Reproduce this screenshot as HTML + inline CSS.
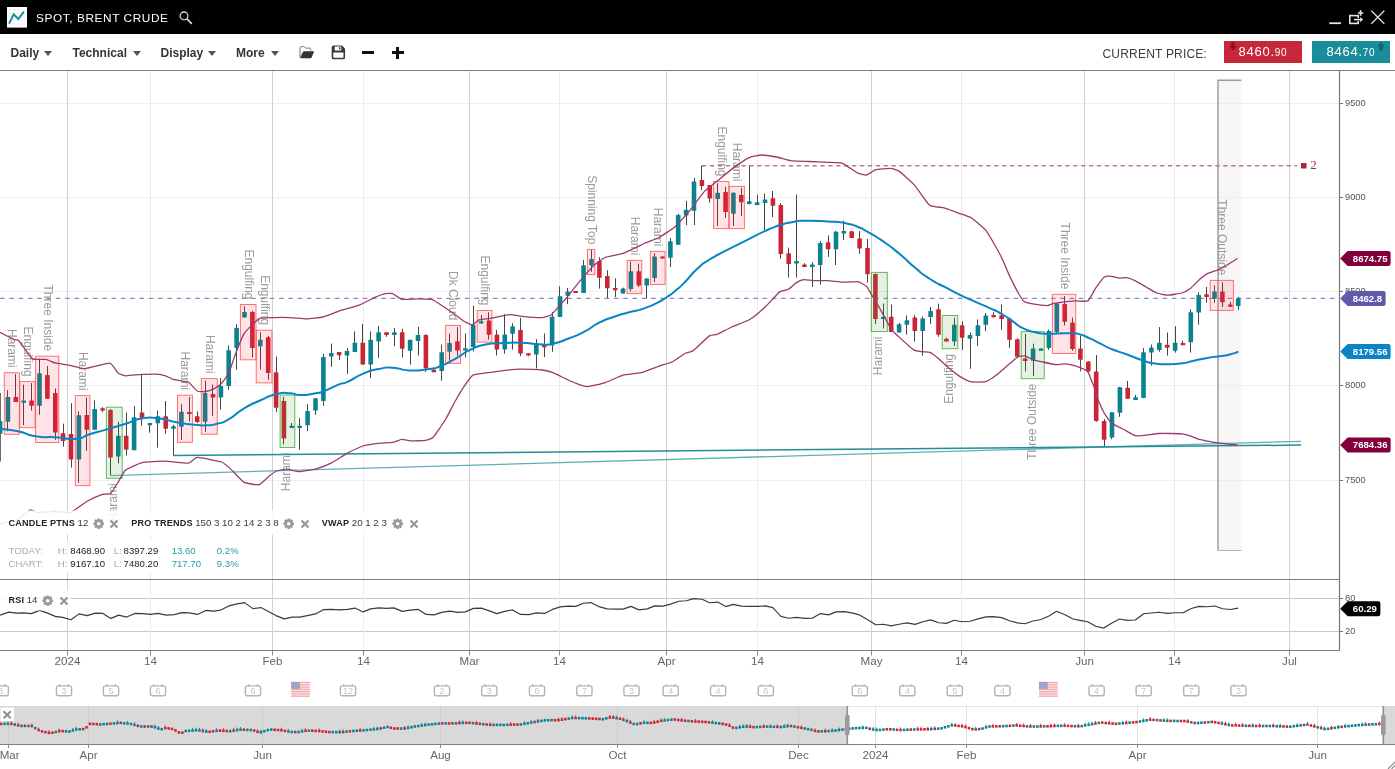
<!DOCTYPE html>
<html lang="en"><head><meta charset="utf-8"><title>SPOT, BRENT CRUDE</title>
<style>
html,body{margin:0;padding:0;background:#fff}
body{width:1395px;height:769px;position:relative;overflow:hidden;font-family:"Liberation Sans",sans-serif}
.abs{position:absolute;white-space:nowrap;line-height:1}
.ic{position:absolute}
#hdr{position:absolute;left:0;top:0;width:1395px;height:34px;background:#000}
#tb{position:absolute;left:0;top:34px;width:1395px;height:36px;background:#fff;border-bottom:1.5px solid #7d7d7d;box-sizing:content-box}
.title{left:36px;top:12.7px;color:#fff;font-size:11.8px;letter-spacing:0.6px}
.mi{top:46.7px;font-size:12px;font-weight:bold;color:#353535}
.tri{position:absolute;width:0;height:0;border-left:4.9px solid transparent;border-right:4.9px solid transparent;border-top:5.6px solid #555;top:50.6px}
.cp{left:1102.5px;top:47.6px;font-size:12px;letter-spacing:0.2px;color:#3c3c3c}
.pb{position:absolute;top:41px;height:22px;width:78px;color:#fff}
.pb span{position:absolute;white-space:nowrap;line-height:1}
.lg{font-size:9.05px;color:#222}
.lg b{letter-spacing:0.2px}
.lgv{font-size:9.7px;color:#3a3a3a}
.st{font-size:9.6px}
</style></head><body>
<svg width="1395" height="769" viewBox="0 0 1395 769" style="position:absolute;left:0;top:0" font-family="'Liberation Sans', sans-serif">
<rect x="0" y="70" width="1395" height="699" fill="#fff"/>
<rect x="1218" y="80" width="23.5" height="471" fill="#f6f6f6"/>
<line x1="0" x2="1339" y1="103.5" y2="103.5" stroke="#eeeeee" stroke-width="1"/>
<line x1="0" x2="1339" y1="197.5" y2="197.5" stroke="#eeeeee" stroke-width="1"/>
<line x1="0" x2="1339" y1="291.5" y2="291.5" stroke="#eeeeee" stroke-width="1"/>
<line x1="0" x2="1339" y1="385.5" y2="385.5" stroke="#eeeeee" stroke-width="1"/>
<line x1="0" x2="1339" y1="480.5" y2="480.5" stroke="#eeeeee" stroke-width="1"/>
<line x1="0" x2="1339" y1="598.5" y2="598.5" stroke="#c9c9c9" stroke-width="1"/>
<line x1="0" x2="1339" y1="631.5" y2="631.5" stroke="#c9c9c9" stroke-width="1"/>
<line x1="67.5" x2="67.5" y1="71" y2="651" stroke="#d3d3d3" stroke-width="1"/>
<line x1="150.5" x2="150.5" y1="71" y2="651" stroke="#ebebeb" stroke-width="1"/>
<line x1="272.5" x2="272.5" y1="71" y2="651" stroke="#d3d3d3" stroke-width="1"/>
<line x1="363.5" x2="363.5" y1="71" y2="651" stroke="#ebebeb" stroke-width="1"/>
<line x1="469.5" x2="469.5" y1="71" y2="651" stroke="#d3d3d3" stroke-width="1"/>
<line x1="559.5" x2="559.5" y1="71" y2="651" stroke="#ebebeb" stroke-width="1"/>
<line x1="666.5" x2="666.5" y1="71" y2="651" stroke="#d3d3d3" stroke-width="1"/>
<line x1="757.5" x2="757.5" y1="71" y2="651" stroke="#ebebeb" stroke-width="1"/>
<line x1="871.5" x2="871.5" y1="71" y2="651" stroke="#d3d3d3" stroke-width="1"/>
<line x1="961.5" x2="961.5" y1="71" y2="651" stroke="#ebebeb" stroke-width="1"/>
<line x1="1084.5" x2="1084.5" y1="71" y2="651" stroke="#d3d3d3" stroke-width="1"/>
<line x1="1174.5" x2="1174.5" y1="71" y2="651" stroke="#ebebeb" stroke-width="1"/>
<line x1="1289.5" x2="1289.5" y1="71" y2="651" stroke="#d3d3d3" stroke-width="1"/>
<path d="M1218 551 V80.2 H1241.5" fill="none" stroke="#9a9a9a" stroke-width="1.4"/>
<line x1="1218" x2="1241.5" y1="550.5" y2="550.5" stroke="#b5b5b5" stroke-width="1"/>
<line x1="0" x2="1339" y1="298.4" y2="298.4" stroke="#8d86cb" stroke-width="1.1" stroke-dasharray="4.6 4.7"/>
<g id="candles">
<line x1="0.3" x2="0.3" y1="393" y2="461.6" stroke="#464646" stroke-width="1"/>
<rect x="-2.2" y="421.1" width="4.6" height="12.6" rx="0.5" fill="#0a8290"/>
<line x1="7.5" x2="7.5" y1="390.2" y2="431.3" stroke="#464646" stroke-width="1"/>
<rect x="5.6" y="396.9" width="4.6" height="24.8" rx="0.5" fill="#0a8290"/>
<line x1="15.5" x2="15.5" y1="374.1" y2="401.9" stroke="#464646" stroke-width="1"/>
<rect x="13.5" y="396.9" width="4.6" height="5" rx="0.5" fill="#cb2535"/>
<line x1="23.5" x2="23.5" y1="384.7" y2="425.3" stroke="#464646" stroke-width="1"/>
<rect x="21.4" y="400.5" width="4.6" height="2.3" rx="0.5" fill="#0a8290"/>
<line x1="31.5" x2="31.5" y1="383" y2="410.5" stroke="#464646" stroke-width="1"/>
<rect x="29.3" y="400.5" width="4.6" height="5.2" rx="0.5" fill="#cb2535"/>
<line x1="39.5" x2="39.5" y1="358.6" y2="414.8" stroke="#464646" stroke-width="1"/>
<rect x="37.2" y="373.3" width="4.6" height="32.4" rx="0.5" fill="#0a8290"/>
<line x1="47.5" x2="47.5" y1="366.1" y2="398.8" stroke="#464646" stroke-width="1"/>
<rect x="45.1" y="375.1" width="4.6" height="23.7" rx="0.5" fill="#cb2535"/>
<line x1="55.5" x2="55.5" y1="388.5" y2="439.9" stroke="#464646" stroke-width="1"/>
<rect x="53" y="393" width="4.6" height="39.5" rx="0.5" fill="#cb2535"/>
<line x1="63.5" x2="63.5" y1="423.7" y2="446.6" stroke="#464646" stroke-width="1"/>
<rect x="60.8" y="433.3" width="4.6" height="7.6" rx="0.5" fill="#cb2535"/>
<line x1="71.5" x2="71.5" y1="403.2" y2="467.7" stroke="#464646" stroke-width="1"/>
<rect x="68.7" y="434.1" width="4.6" height="25.4" rx="0.5" fill="#cb2535"/>
<line x1="78.5" x2="78.5" y1="411.5" y2="482.7" stroke="#464646" stroke-width="1"/>
<rect x="76.6" y="415.3" width="4.6" height="44.2" rx="0.5" fill="#0a8290"/>
<line x1="86.5" x2="86.5" y1="397.6" y2="450.9" stroke="#464646" stroke-width="1"/>
<rect x="84.5" y="415" width="4.6" height="14.8" rx="0.5" fill="#cb2535"/>
<line x1="94.5" x2="94.5" y1="400.4" y2="429.7" stroke="#464646" stroke-width="1"/>
<rect x="92.4" y="408.9" width="4.6" height="20.8" rx="0.5" fill="#0a8290"/>
<line x1="102.5" x2="102.5" y1="407.2" y2="412.2" stroke="#464646" stroke-width="1"/>
<rect x="100.3" y="408.2" width="4.6" height="2.3" rx="0.5" fill="#cb2535"/>
<line x1="110.5" x2="110.5" y1="408.9" y2="475.6" stroke="#464646" stroke-width="1"/>
<rect x="108.2" y="410" width="4.6" height="47.6" rx="0.5" fill="#cb2535"/>
<line x1="118.5" x2="118.5" y1="421.8" y2="463.4" stroke="#464646" stroke-width="1"/>
<rect x="116" y="435.8" width="4.6" height="20.8" rx="0.5" fill="#0a8290"/>
<line x1="126.5" x2="126.5" y1="412.5" y2="455.6" stroke="#464646" stroke-width="1"/>
<rect x="123.9" y="435.8" width="4.6" height="13.7" rx="0.5" fill="#cb2535"/>
<line x1="134.5" x2="134.5" y1="406" y2="450.2" stroke="#464646" stroke-width="1"/>
<rect x="131.8" y="417.2" width="4.6" height="33" rx="0.5" fill="#0a8290"/>
<line x1="141.5" x2="141.5" y1="374.8" y2="425.8" stroke="#464646" stroke-width="1"/>
<rect x="139.7" y="412.6" width="4.6" height="5.6" rx="0.5" fill="#cb2535"/>
<line x1="149.5" x2="149.5" y1="423" y2="432.7" stroke="#464646" stroke-width="1"/>
<rect x="147.6" y="423" width="4.6" height="2.2" rx="0.5" fill="#0a8290"/>
<line x1="157.5" x2="157.5" y1="410.8" y2="447.6" stroke="#464646" stroke-width="1"/>
<rect x="155.5" y="416.2" width="4.6" height="7" rx="0.5" fill="#0a8290"/>
<line x1="165.5" x2="165.5" y1="401.1" y2="433.7" stroke="#464646" stroke-width="1"/>
<rect x="163.4" y="416.2" width="4.6" height="12.5" rx="0.5" fill="#cb2535"/>
<line x1="173.5" x2="173.5" y1="424.7" y2="455.6" stroke="#464646" stroke-width="1"/>
<rect x="171.2" y="426.2" width="4.6" height="2.5" rx="0.5" fill="#0a8290"/>
<line x1="181.5" x2="181.5" y1="404.3" y2="439.9" stroke="#464646" stroke-width="1"/>
<rect x="179.1" y="411.8" width="4.6" height="15" rx="0.5" fill="#0a8290"/>
<line x1="189.5" x2="189.5" y1="396.9" y2="421.5" stroke="#464646" stroke-width="1"/>
<rect x="187" y="411.9" width="4.6" height="2.2" rx="0.5" fill="#cb2535"/>
<line x1="197.5" x2="197.5" y1="411.3" y2="423" stroke="#464646" stroke-width="1"/>
<rect x="194.9" y="416.3" width="4.6" height="5.7" rx="0.5" fill="#cb2535"/>
<line x1="205.5" x2="205.5" y1="380.8" y2="431.9" stroke="#464646" stroke-width="1"/>
<rect x="202.8" y="393" width="4.6" height="28.7" rx="0.5" fill="#0a8290"/>
<line x1="212.5" x2="212.5" y1="384.4" y2="415.8" stroke="#464646" stroke-width="1"/>
<rect x="210.7" y="393.9" width="4.6" height="3.6" rx="0.5" fill="#cb2535"/>
<line x1="220.5" x2="220.5" y1="378.1" y2="409.5" stroke="#464646" stroke-width="1"/>
<rect x="218.6" y="386.1" width="4.6" height="11.4" rx="0.5" fill="#0a8290"/>
<line x1="228.5" x2="228.5" y1="345.4" y2="389.7" stroke="#464646" stroke-width="1"/>
<rect x="226.4" y="350.3" width="4.6" height="35.8" rx="0.5" fill="#0a8290"/>
<line x1="236.5" x2="236.5" y1="324.2" y2="369.6" stroke="#464646" stroke-width="1"/>
<rect x="234.3" y="327.8" width="4.6" height="20.3" rx="0.5" fill="#0a8290"/>
<line x1="244.5" x2="244.5" y1="306.3" y2="317.4" stroke="#464646" stroke-width="1"/>
<rect x="242.2" y="312" width="4.6" height="5.4" rx="0.5" fill="#0a8290"/>
<line x1="252.5" x2="252.5" y1="310.8" y2="357.4" stroke="#464646" stroke-width="1"/>
<rect x="250.1" y="312" width="4.6" height="36.1" rx="0.5" fill="#cb2535"/>
<line x1="260.5" x2="260.5" y1="332.3" y2="369.6" stroke="#464646" stroke-width="1"/>
<rect x="258" y="339.8" width="4.6" height="6.5" rx="0.5" fill="#0a8290"/>
<line x1="268.5" x2="268.5" y1="335.9" y2="379.9" stroke="#464646" stroke-width="1"/>
<rect x="265.9" y="337.2" width="4.6" height="35.8" rx="0.5" fill="#cb2535"/>
<line x1="276.5" x2="276.5" y1="356.5" y2="412.2" stroke="#464646" stroke-width="1"/>
<rect x="273.8" y="372.3" width="4.6" height="35.4" rx="0.5" fill="#cb2535"/>
<line x1="283.5" x2="283.5" y1="396.9" y2="444.5" stroke="#464646" stroke-width="1"/>
<rect x="281.6" y="401.1" width="4.6" height="37.4" rx="0.5" fill="#cb2535"/>
<line x1="291.5" x2="291.5" y1="423" y2="428" stroke="#464646" stroke-width="1"/>
<rect x="289.5" y="425.7" width="4.6" height="2.3" rx="0.5" fill="#0a8290"/>
<line x1="299.5" x2="299.5" y1="418.2" y2="449.6" stroke="#464646" stroke-width="1"/>
<rect x="297.4" y="425.7" width="4.6" height="2.3" rx="0.5" fill="#0a8290"/>
<line x1="307.5" x2="307.5" y1="404.1" y2="431" stroke="#464646" stroke-width="1"/>
<rect x="305.3" y="410.9" width="4.6" height="14.4" rx="0.5" fill="#0a8290"/>
<line x1="315.5" x2="315.5" y1="397.8" y2="414.9" stroke="#464646" stroke-width="1"/>
<rect x="313.2" y="398.3" width="4.6" height="12.1" rx="0.5" fill="#0a8290"/>
<line x1="323.5" x2="323.5" y1="353.8" y2="405.9" stroke="#464646" stroke-width="1"/>
<rect x="321.1" y="356.9" width="4.6" height="44.1" rx="0.5" fill="#0a8290"/>
<line x1="331.5" x2="331.5" y1="343.6" y2="366.8" stroke="#464646" stroke-width="1"/>
<rect x="329" y="352.9" width="4.6" height="3.6" rx="0.5" fill="#0a8290"/>
<line x1="339.5" x2="339.5" y1="352" y2="360.1" stroke="#464646" stroke-width="1"/>
<rect x="336.8" y="352" width="4.6" height="3.3" rx="0.5" fill="#cb2535"/>
<line x1="347.5" x2="347.5" y1="348.1" y2="373.9" stroke="#464646" stroke-width="1"/>
<rect x="344.7" y="351.1" width="4.6" height="4.5" rx="0.5" fill="#0a8290"/>
<line x1="354.5" x2="354.5" y1="331.4" y2="352" stroke="#464646" stroke-width="1"/>
<rect x="352.6" y="342.7" width="4.6" height="9.3" rx="0.5" fill="#0a8290"/>
<line x1="362.5" x2="362.5" y1="323.9" y2="364.6" stroke="#464646" stroke-width="1"/>
<rect x="360.5" y="342.7" width="4.6" height="21.9" rx="0.5" fill="#cb2535"/>
<line x1="370.5" x2="370.5" y1="331.4" y2="378.1" stroke="#464646" stroke-width="1"/>
<rect x="368.4" y="339.8" width="4.6" height="24.8" rx="0.5" fill="#0a8290"/>
<line x1="378.5" x2="378.5" y1="326" y2="357.8" stroke="#464646" stroke-width="1"/>
<rect x="376.3" y="332.3" width="4.6" height="9.3" rx="0.5" fill="#0a8290"/>
<line x1="386.5" x2="386.5" y1="332.3" y2="336.8" stroke="#464646" stroke-width="1"/>
<rect x="384.2" y="332.3" width="4.6" height="2.7" rx="0.5" fill="#cb2535"/>
<line x1="394.5" x2="394.5" y1="327.8" y2="346.3" stroke="#464646" stroke-width="1"/>
<rect x="392.1" y="332.3" width="4.6" height="2.7" rx="0.5" fill="#0a8290"/>
<line x1="402.5" x2="402.5" y1="328.7" y2="357.4" stroke="#464646" stroke-width="1"/>
<rect x="399.9" y="332.3" width="4.6" height="16.5" rx="0.5" fill="#cb2535"/>
<line x1="410.5" x2="410.5" y1="339.8" y2="364.6" stroke="#464646" stroke-width="1"/>
<rect x="407.8" y="339.8" width="4.6" height="11" rx="0.5" fill="#0a8290"/>
<line x1="418.5" x2="418.5" y1="326.9" y2="355.6" stroke="#464646" stroke-width="1"/>
<rect x="415.7" y="335" width="4.6" height="5.9" rx="0.5" fill="#0a8290"/>
<line x1="425.5" x2="425.5" y1="334.1" y2="371.8" stroke="#464646" stroke-width="1"/>
<rect x="423.6" y="335" width="4.6" height="33.2" rx="0.5" fill="#cb2535"/>
<line x1="433.5" x2="433.5" y1="367.3" y2="372.1" stroke="#464646" stroke-width="1"/>
<rect x="431.5" y="370" width="4.6" height="2.2" rx="0.5" fill="#cb2535"/>
<line x1="441.5" x2="441.5" y1="344.6" y2="380.7" stroke="#464646" stroke-width="1"/>
<rect x="439.4" y="352.3" width="4.6" height="18.8" rx="0.5" fill="#0a8290"/>
<line x1="449.5" x2="449.5" y1="333.5" y2="360.9" stroke="#464646" stroke-width="1"/>
<rect x="447.3" y="343" width="4.6" height="8.8" rx="0.5" fill="#0a8290"/>
<line x1="457.5" x2="457.5" y1="327.2" y2="355.9" stroke="#464646" stroke-width="1"/>
<rect x="455.1" y="341.2" width="4.6" height="9.3" rx="0.5" fill="#cb2535"/>
<line x1="465.5" x2="465.5" y1="333.5" y2="357.3" stroke="#464646" stroke-width="1"/>
<rect x="463" y="348.3" width="4.6" height="2.2" rx="0.5" fill="#0a8290"/>
<line x1="473.5" x2="473.5" y1="305.6" y2="351.4" stroke="#464646" stroke-width="1"/>
<rect x="470.9" y="324.5" width="4.6" height="22.4" rx="0.5" fill="#0a8290"/>
<line x1="481.5" x2="481.5" y1="315" y2="323.6" stroke="#464646" stroke-width="1"/>
<rect x="478.8" y="321.2" width="4.6" height="2.4" rx="0.5" fill="#0a8290"/>
<line x1="488.5" x2="488.5" y1="312.3" y2="339.7" stroke="#464646" stroke-width="1"/>
<rect x="486.7" y="320.4" width="4.6" height="14.3" rx="0.5" fill="#cb2535"/>
<line x1="496.5" x2="496.5" y1="329.9" y2="355.5" stroke="#464646" stroke-width="1"/>
<rect x="494.6" y="334.4" width="4.6" height="15.2" rx="0.5" fill="#cb2535"/>
<line x1="504.5" x2="504.5" y1="314.1" y2="353.7" stroke="#464646" stroke-width="1"/>
<rect x="502.5" y="334.4" width="4.6" height="15.2" rx="0.5" fill="#0a8290"/>
<line x1="512.5" x2="512.5" y1="323.2" y2="349.6" stroke="#464646" stroke-width="1"/>
<rect x="510.3" y="326.3" width="4.6" height="7.5" rx="0.5" fill="#0a8290"/>
<line x1="520.5" x2="520.5" y1="317.8" y2="356.2" stroke="#464646" stroke-width="1"/>
<rect x="518.2" y="329.9" width="4.6" height="23.7" rx="0.5" fill="#cb2535"/>
<line x1="528.5" x2="528.5" y1="353.2" y2="356.2" stroke="#464646" stroke-width="1"/>
<rect x="526.1" y="353.2" width="4.6" height="2.2" rx="0.5" fill="#cb2535"/>
<line x1="536.5" x2="536.5" y1="339.2" y2="368.4" stroke="#464646" stroke-width="1"/>
<rect x="534" y="343.3" width="4.6" height="11.2" rx="0.5" fill="#0a8290"/>
<line x1="544.5" x2="544.5" y1="333.5" y2="357.1" stroke="#464646" stroke-width="1"/>
<rect x="541.9" y="345.1" width="4.6" height="2.2" rx="0.5" fill="#cb2535"/>
<line x1="552.5" x2="552.5" y1="312.3" y2="351.8" stroke="#464646" stroke-width="1"/>
<rect x="549.8" y="316.8" width="4.6" height="28.7" rx="0.5" fill="#0a8290"/>
<line x1="559.5" x2="559.5" y1="286.3" y2="316.9" stroke="#464646" stroke-width="1"/>
<rect x="557.7" y="296.3" width="4.6" height="20.6" rx="0.5" fill="#0a8290"/>
<line x1="567.5" x2="567.5" y1="288" y2="304.2" stroke="#464646" stroke-width="1"/>
<rect x="565.5" y="291.6" width="4.6" height="4.2" rx="0.5" fill="#0a8290"/>
<line x1="575.5" x2="575.5" y1="290.9" y2="292.7" stroke="#464646" stroke-width="1"/>
<rect x="573.4" y="290.9" width="4.6" height="2.2" rx="0.5" fill="#cb2535"/>
<line x1="583.5" x2="583.5" y1="259.9" y2="293.1" stroke="#464646" stroke-width="1"/>
<rect x="581.3" y="265.3" width="4.6" height="27.8" rx="0.5" fill="#0a8290"/>
<line x1="591.5" x2="591.5" y1="250" y2="271.9" stroke="#464646" stroke-width="1"/>
<rect x="589.2" y="259" width="4.6" height="6.3" rx="0.5" fill="#0a8290"/>
<line x1="599.5" x2="599.5" y1="257.2" y2="288.6" stroke="#464646" stroke-width="1"/>
<rect x="597.1" y="261.1" width="4.6" height="16.7" rx="0.5" fill="#cb2535"/>
<line x1="607.5" x2="607.5" y1="270.3" y2="298.1" stroke="#464646" stroke-width="1"/>
<rect x="605" y="276" width="4.6" height="12.2" rx="0.5" fill="#cb2535"/>
<line x1="615.5" x2="615.5" y1="278.4" y2="297" stroke="#464646" stroke-width="1"/>
<rect x="612.9" y="288" width="4.6" height="2.2" rx="0.5" fill="#cb2535"/>
<line x1="623.5" x2="623.5" y1="287.7" y2="293.6" stroke="#464646" stroke-width="1"/>
<rect x="620.7" y="288.6" width="4.6" height="5" rx="0.5" fill="#0a8290"/>
<line x1="630.5" x2="630.5" y1="261.7" y2="291.3" stroke="#464646" stroke-width="1"/>
<rect x="628.6" y="271.2" width="4.6" height="17.9" rx="0.5" fill="#0a8290"/>
<line x1="638.5" x2="638.5" y1="263.5" y2="286.8" stroke="#464646" stroke-width="1"/>
<rect x="636.5" y="271.2" width="4.6" height="14.3" rx="0.5" fill="#cb2535"/>
<line x1="646.5" x2="646.5" y1="278.4" y2="298.5" stroke="#464646" stroke-width="1"/>
<rect x="644.4" y="278.4" width="4.6" height="7.1" rx="0.5" fill="#0a8290"/>
<line x1="654.5" x2="654.5" y1="253.3" y2="282" stroke="#464646" stroke-width="1"/>
<rect x="652.3" y="256.4" width="4.6" height="21.5" rx="0.5" fill="#0a8290"/>
<line x1="662.5" x2="662.5" y1="256.4" y2="258.5" stroke="#464646" stroke-width="1"/>
<rect x="660.2" y="256.4" width="4.6" height="2.2" rx="0.5" fill="#cb2535"/>
<line x1="670.5" x2="670.5" y1="238.1" y2="267.1" stroke="#464646" stroke-width="1"/>
<rect x="668.1" y="241.3" width="4.6" height="16.5" rx="0.5" fill="#0a8290"/>
<line x1="678.5" x2="678.5" y1="213.8" y2="244.7" stroke="#464646" stroke-width="1"/>
<rect x="675.9" y="215.1" width="4.6" height="29.6" rx="0.5" fill="#0a8290"/>
<line x1="686.5" x2="686.5" y1="200.9" y2="225" stroke="#464646" stroke-width="1"/>
<rect x="683.8" y="209.7" width="4.6" height="5.9" rx="0.5" fill="#0a8290"/>
<line x1="694.5" x2="694.5" y1="177.9" y2="225" stroke="#464646" stroke-width="1"/>
<rect x="691.7" y="181.5" width="4.6" height="29.3" rx="0.5" fill="#0a8290"/>
<line x1="701.5" x2="701.5" y1="165.4" y2="190.2" stroke="#464646" stroke-width="1"/>
<rect x="699.6" y="180.1" width="4.6" height="5.9" rx="0.5" fill="#cb2535"/>
<line x1="709.5" x2="709.5" y1="185.1" y2="202.7" stroke="#464646" stroke-width="1"/>
<rect x="707.5" y="185.1" width="4.6" height="13.5" rx="0.5" fill="#cb2535"/>
<line x1="717.5" x2="717.5" y1="183.3" y2="226" stroke="#464646" stroke-width="1"/>
<rect x="715.4" y="192.8" width="4.6" height="6.1" rx="0.5" fill="#0a8290"/>
<line x1="725.5" x2="725.5" y1="186.9" y2="217.8" stroke="#464646" stroke-width="1"/>
<rect x="723.3" y="191.9" width="4.6" height="20.1" rx="0.5" fill="#cb2535"/>
<line x1="733.5" x2="733.5" y1="192.3" y2="226" stroke="#464646" stroke-width="1"/>
<rect x="731.1" y="192.7" width="4.6" height="21.1" rx="0.5" fill="#0a8290"/>
<line x1="741.5" x2="741.5" y1="187.8" y2="216" stroke="#464646" stroke-width="1"/>
<rect x="739" y="195" width="4.6" height="7.2" rx="0.5" fill="#cb2535"/>
<line x1="749.5" x2="749.5" y1="165" y2="204.5" stroke="#464646" stroke-width="1"/>
<rect x="746.9" y="201.3" width="4.6" height="2.7" rx="0.5" fill="#0a8290"/>
<line x1="757.5" x2="757.5" y1="194.6" y2="205.2" stroke="#464646" stroke-width="1"/>
<rect x="754.8" y="202.2" width="4.6" height="2.7" rx="0.5" fill="#0a8290"/>
<line x1="764.5" x2="764.5" y1="193.6" y2="230" stroke="#464646" stroke-width="1"/>
<rect x="762.7" y="199.5" width="4.6" height="3.6" rx="0.5" fill="#0a8290"/>
<line x1="772.5" x2="772.5" y1="191" y2="217.1" stroke="#464646" stroke-width="1"/>
<rect x="770.6" y="198.2" width="4.6" height="7.6" rx="0.5" fill="#cb2535"/>
<line x1="780.5" x2="780.5" y1="203.1" y2="258.7" stroke="#464646" stroke-width="1"/>
<rect x="778.5" y="204.9" width="4.6" height="49" rx="0.5" fill="#cb2535"/>
<line x1="788.5" x2="788.5" y1="247.6" y2="277.6" stroke="#464646" stroke-width="1"/>
<rect x="786.4" y="253.3" width="4.6" height="10.8" rx="0.5" fill="#cb2535"/>
<line x1="796.5" x2="796.5" y1="194.6" y2="277.6" stroke="#464646" stroke-width="1"/>
<rect x="794.2" y="260.9" width="4.6" height="2.7" rx="0.5" fill="#0a8290"/>
<line x1="804.5" x2="804.5" y1="263.2" y2="267.1" stroke="#464646" stroke-width="1"/>
<rect x="802.1" y="264.6" width="4.6" height="2.5" rx="0.5" fill="#cb2535"/>
<line x1="812.5" x2="812.5" y1="262.3" y2="286.9" stroke="#464646" stroke-width="1"/>
<rect x="810" y="264.5" width="4.6" height="2.6" rx="0.5" fill="#0a8290"/>
<line x1="820.5" x2="820.5" y1="240.8" y2="284.7" stroke="#464646" stroke-width="1"/>
<rect x="817.9" y="242.9" width="4.6" height="22.1" rx="0.5" fill="#0a8290"/>
<line x1="828.5" x2="828.5" y1="235.4" y2="256.9" stroke="#464646" stroke-width="1"/>
<rect x="825.8" y="242.2" width="4.6" height="7" rx="0.5" fill="#cb2535"/>
<line x1="835.5" x2="835.5" y1="230.9" y2="265" stroke="#464646" stroke-width="1"/>
<rect x="833.7" y="231.8" width="4.6" height="17.4" rx="0.5" fill="#0a8290"/>
<line x1="843.5" x2="843.5" y1="220.7" y2="240.2" stroke="#464646" stroke-width="1"/>
<rect x="841.6" y="230.9" width="4.6" height="2.7" rx="0.5" fill="#0a8290"/>
<line x1="851.5" x2="851.5" y1="230.9" y2="238.1" stroke="#464646" stroke-width="1"/>
<rect x="849.4" y="231.2" width="4.6" height="6.9" rx="0.5" fill="#cb2535"/>
<line x1="859.5" x2="859.5" y1="230.9" y2="253.9" stroke="#464646" stroke-width="1"/>
<rect x="857.3" y="238.4" width="4.6" height="10.1" rx="0.5" fill="#cb2535"/>
<line x1="867.5" x2="867.5" y1="239" y2="282.6" stroke="#464646" stroke-width="1"/>
<rect x="865.2" y="247.9" width="4.6" height="26.4" rx="0.5" fill="#cb2535"/>
<line x1="875.5" x2="875.5" y1="273.5" y2="323.9" stroke="#464646" stroke-width="1"/>
<rect x="873.1" y="274" width="4.6" height="45.1" rx="0.5" fill="#cb2535"/>
<line x1="883.5" x2="883.5" y1="303.6" y2="328.4" stroke="#464646" stroke-width="1"/>
<rect x="881" y="316.7" width="4.6" height="2.4" rx="0.5" fill="#0a8290"/>
<line x1="891.5" x2="891.5" y1="304.5" y2="332" stroke="#464646" stroke-width="1"/>
<rect x="888.9" y="316.7" width="4.6" height="15.3" rx="0.5" fill="#cb2535"/>
<line x1="899.5" x2="899.5" y1="323" y2="332.5" stroke="#464646" stroke-width="1"/>
<rect x="896.8" y="324.3" width="4.6" height="8.2" rx="0.5" fill="#0a8290"/>
<line x1="906.5" x2="906.5" y1="315.5" y2="334.7" stroke="#464646" stroke-width="1"/>
<rect x="904.6" y="320.3" width="4.6" height="4.5" rx="0.5" fill="#0a8290"/>
<line x1="914.5" x2="914.5" y1="314.9" y2="341.5" stroke="#464646" stroke-width="1"/>
<rect x="912.5" y="317.6" width="4.6" height="13.5" rx="0.5" fill="#cb2535"/>
<line x1="922.5" x2="922.5" y1="316.7" y2="355.7" stroke="#464646" stroke-width="1"/>
<rect x="920.4" y="318.5" width="4.6" height="12.6" rx="0.5" fill="#0a8290"/>
<line x1="930.5" x2="930.5" y1="306.9" y2="323.9" stroke="#464646" stroke-width="1"/>
<rect x="928.3" y="311" width="4.6" height="6.1" rx="0.5" fill="#0a8290"/>
<line x1="938.5" x2="938.5" y1="303.6" y2="336.8" stroke="#464646" stroke-width="1"/>
<rect x="936.2" y="309.2" width="4.6" height="25.5" rx="0.5" fill="#cb2535"/>
<line x1="946.5" x2="946.5" y1="337.7" y2="341.5" stroke="#464646" stroke-width="1"/>
<rect x="944.1" y="338.8" width="4.6" height="2.7" rx="0.5" fill="#cb2535"/>
<line x1="954.5" x2="954.5" y1="317.6" y2="346" stroke="#464646" stroke-width="1"/>
<rect x="952" y="324.8" width="4.6" height="16.7" rx="0.5" fill="#0a8290"/>
<line x1="962.5" x2="962.5" y1="321.2" y2="349.9" stroke="#464646" stroke-width="1"/>
<rect x="959.8" y="325.2" width="4.6" height="12.5" rx="0.5" fill="#cb2535"/>
<line x1="970.5" x2="970.5" y1="332.5" y2="368.8" stroke="#464646" stroke-width="1"/>
<rect x="967.7" y="335" width="4.6" height="3.8" rx="0.5" fill="#0a8290"/>
<line x1="977.5" x2="977.5" y1="319.4" y2="346" stroke="#464646" stroke-width="1"/>
<rect x="975.6" y="325.2" width="4.6" height="10.7" rx="0.5" fill="#0a8290"/>
<line x1="985.5" x2="985.5" y1="313.1" y2="331.1" stroke="#464646" stroke-width="1"/>
<rect x="983.5" y="315.5" width="4.6" height="9.3" rx="0.5" fill="#0a8290"/>
<line x1="993.5" x2="993.5" y1="312.3" y2="317.3" stroke="#464646" stroke-width="1"/>
<rect x="991.4" y="314.9" width="4.6" height="2.4" rx="0.5" fill="#cb2535"/>
<line x1="1001.5" x2="1001.5" y1="304.5" y2="329.7" stroke="#464646" stroke-width="1"/>
<rect x="999.3" y="315.3" width="4.6" height="3.8" rx="0.5" fill="#cb2535"/>
<line x1="1009.5" x2="1009.5" y1="317.6" y2="347.8" stroke="#464646" stroke-width="1"/>
<rect x="1007.2" y="318.5" width="4.6" height="21.2" rx="0.5" fill="#cb2535"/>
<line x1="1017.5" x2="1017.5" y1="338.3" y2="356.8" stroke="#464646" stroke-width="1"/>
<rect x="1015" y="339.2" width="4.6" height="17.6" rx="0.5" fill="#cb2535"/>
<line x1="1025.5" x2="1025.5" y1="333.8" y2="371.5" stroke="#464646" stroke-width="1"/>
<rect x="1022.9" y="358.6" width="4.6" height="2.5" rx="0.5" fill="#cb2535"/>
<line x1="1033.5" x2="1033.5" y1="343.7" y2="376" stroke="#464646" stroke-width="1"/>
<rect x="1030.8" y="348.5" width="4.6" height="12.2" rx="0.5" fill="#0a8290"/>
<line x1="1041.5" x2="1041.5" y1="348.5" y2="350.8" stroke="#464646" stroke-width="1"/>
<rect x="1038.7" y="348.5" width="4.6" height="2.3" rx="0.5" fill="#0a8290"/>
<line x1="1048.5" x2="1048.5" y1="329.7" y2="349.9" stroke="#464646" stroke-width="1"/>
<rect x="1046.6" y="331.1" width="4.6" height="17" rx="0.5" fill="#0a8290"/>
<line x1="1056.5" x2="1056.5" y1="303" y2="333" stroke="#464646" stroke-width="1"/>
<rect x="1054.5" y="303.6" width="4.6" height="28.4" rx="0.5" fill="#0a8290"/>
<line x1="1064.5" x2="1064.5" y1="296" y2="325.6" stroke="#464646" stroke-width="1"/>
<rect x="1062.4" y="304.1" width="4.6" height="17.6" rx="0.5" fill="#cb2535"/>
<line x1="1072.5" x2="1072.5" y1="317.6" y2="350.8" stroke="#464646" stroke-width="1"/>
<rect x="1070.2" y="322.4" width="4.6" height="26.6" rx="0.5" fill="#cb2535"/>
<line x1="1080.5" x2="1080.5" y1="335.5" y2="371.4" stroke="#464646" stroke-width="1"/>
<rect x="1078.1" y="348.4" width="4.6" height="11.3" rx="0.5" fill="#cb2535"/>
<line x1="1088.5" x2="1088.5" y1="361.2" y2="371.4" stroke="#464646" stroke-width="1"/>
<rect x="1086" y="361.5" width="4.6" height="9.9" rx="0.5" fill="#cb2535"/>
<line x1="1096.5" x2="1096.5" y1="355" y2="421.8" stroke="#464646" stroke-width="1"/>
<rect x="1093.9" y="371.5" width="4.6" height="49.4" rx="0.5" fill="#cb2535"/>
<line x1="1104.5" x2="1104.5" y1="419.1" y2="446.9" stroke="#464646" stroke-width="1"/>
<rect x="1101.8" y="420.9" width="4.6" height="18.8" rx="0.5" fill="#cb2535"/>
<line x1="1111.5" x2="1111.5" y1="412.3" y2="439.2" stroke="#464646" stroke-width="1"/>
<rect x="1109.7" y="412.3" width="4.6" height="25.1" rx="0.5" fill="#0a8290"/>
<line x1="1119.5" x2="1119.5" y1="386.8" y2="416.8" stroke="#464646" stroke-width="1"/>
<rect x="1117.6" y="387.2" width="4.6" height="25.6" rx="0.5" fill="#0a8290"/>
<line x1="1127.5" x2="1127.5" y1="380.9" y2="398.8" stroke="#464646" stroke-width="1"/>
<rect x="1125.4" y="387.7" width="4.6" height="11.1" rx="0.5" fill="#cb2535"/>
<line x1="1135.5" x2="1135.5" y1="394.9" y2="399.9" stroke="#464646" stroke-width="1"/>
<rect x="1133.3" y="397.2" width="4.6" height="2.7" rx="0.5" fill="#0a8290"/>
<line x1="1143.5" x2="1143.5" y1="348.1" y2="398.1" stroke="#464646" stroke-width="1"/>
<rect x="1141.2" y="352.2" width="4.6" height="45.9" rx="0.5" fill="#0a8290"/>
<line x1="1151.5" x2="1151.5" y1="344.5" y2="365.7" stroke="#464646" stroke-width="1"/>
<rect x="1149.1" y="347.5" width="4.6" height="5.1" rx="0.5" fill="#0a8290"/>
<line x1="1159.5" x2="1159.5" y1="327.1" y2="351.7" stroke="#464646" stroke-width="1"/>
<rect x="1157" y="342.7" width="4.6" height="7.2" rx="0.5" fill="#0a8290"/>
<line x1="1167.5" x2="1167.5" y1="332.5" y2="355.6" stroke="#464646" stroke-width="1"/>
<rect x="1164.9" y="344.8" width="4.6" height="2.9" rx="0.5" fill="#cb2535"/>
<line x1="1175.5" x2="1175.5" y1="326.2" y2="352.6" stroke="#464646" stroke-width="1"/>
<rect x="1172.8" y="342.7" width="4.6" height="8.1" rx="0.5" fill="#0a8290"/>
<line x1="1182.5" x2="1182.5" y1="340.9" y2="345" stroke="#464646" stroke-width="1"/>
<rect x="1180.7" y="343" width="4.6" height="2.2" rx="0.5" fill="#cb2535"/>
<line x1="1190.5" x2="1190.5" y1="309.1" y2="352.6" stroke="#464646" stroke-width="1"/>
<rect x="1188.5" y="312.2" width="4.6" height="30.1" rx="0.5" fill="#0a8290"/>
<line x1="1198.5" x2="1198.5" y1="292.4" y2="324.7" stroke="#464646" stroke-width="1"/>
<rect x="1196.4" y="295.1" width="4.6" height="17.4" rx="0.5" fill="#0a8290"/>
<line x1="1206.5" x2="1206.5" y1="287" y2="302.7" stroke="#464646" stroke-width="1"/>
<rect x="1204.3" y="294.2" width="4.6" height="2.7" rx="0.5" fill="#cb2535"/>
<line x1="1214.5" x2="1214.5" y1="285.3" y2="302.7" stroke="#464646" stroke-width="1"/>
<rect x="1212.2" y="291.5" width="4.6" height="7.2" rx="0.5" fill="#0a8290"/>
<line x1="1222.5" x2="1222.5" y1="282.2" y2="307.2" stroke="#464646" stroke-width="1"/>
<rect x="1220.1" y="291.5" width="4.6" height="10.8" rx="0.5" fill="#cb2535"/>
<line x1="1230.5" x2="1230.5" y1="301.9" y2="306.8" stroke="#464646" stroke-width="1"/>
<rect x="1228" y="304.6" width="4.6" height="2.2" rx="0.5" fill="#cb2535"/>
<line x1="1238.5" x2="1238.5" y1="296.9" y2="309.8" stroke="#464646" stroke-width="1"/>
<rect x="1235.9" y="298.2" width="4.6" height="7.7" rx="0.5" fill="#0a8290"/>
</g>
<g id="boxes">
<rect x="4.3" y="372.7" width="15.1" height="61.6" fill="rgba(255,40,60,0.13)" stroke="rgba(255,70,70,0.75)" stroke-width="1"/>
<rect x="19.8" y="381.6" width="15.3" height="46.1" fill="rgba(255,40,60,0.13)" stroke="rgba(255,70,70,0.75)" stroke-width="1"/>
<rect x="35.6" y="356.2" width="23.2" height="86.3" fill="rgba(255,40,60,0.13)" stroke="rgba(255,70,70,0.75)" stroke-width="1"/>
<rect x="75.3" y="395.6" width="14.6" height="90" fill="rgba(255,40,60,0.13)" stroke="rgba(255,70,70,0.75)" stroke-width="1"/>
<rect x="177.5" y="395.2" width="14.9" height="47.1" fill="rgba(255,40,60,0.13)" stroke="rgba(255,70,70,0.75)" stroke-width="1"/>
<rect x="201.3" y="378.6" width="16" height="55.6" fill="rgba(255,40,60,0.13)" stroke="rgba(255,70,70,0.75)" stroke-width="1"/>
<rect x="240.4" y="304.5" width="15.6" height="55.3" fill="rgba(255,40,60,0.13)" stroke="rgba(255,70,70,0.75)" stroke-width="1"/>
<rect x="256.2" y="330.2" width="15.8" height="52.7" fill="rgba(255,40,60,0.13)" stroke="rgba(255,70,70,0.75)" stroke-width="1"/>
<rect x="445.6" y="325.4" width="14.9" height="38" fill="rgba(255,40,60,0.13)" stroke="rgba(255,70,70,0.75)" stroke-width="1"/>
<rect x="477.2" y="310.5" width="14.7" height="31.6" fill="rgba(255,40,60,0.13)" stroke="rgba(255,70,70,0.75)" stroke-width="1"/>
<rect x="587.4" y="249.4" width="7.4" height="25.2" fill="rgba(255,40,60,0.13)" stroke="rgba(255,70,70,0.75)" stroke-width="1"/>
<rect x="627.1" y="260.4" width="14.7" height="33.2" fill="rgba(255,40,60,0.13)" stroke="rgba(255,70,70,0.75)" stroke-width="1"/>
<rect x="650.4" y="251.4" width="14.7" height="33.1" fill="rgba(255,40,60,0.13)" stroke="rgba(255,70,70,0.75)" stroke-width="1"/>
<rect x="713.6" y="181.5" width="15.2" height="47.1" fill="rgba(255,40,60,0.13)" stroke="rgba(255,70,70,0.75)" stroke-width="1"/>
<rect x="729.2" y="186.4" width="15.2" height="42.2" fill="rgba(255,40,60,0.13)" stroke="rgba(255,70,70,0.75)" stroke-width="1"/>
<rect x="1052.4" y="294.3" width="23.3" height="59.2" fill="rgba(255,40,60,0.13)" stroke="rgba(255,70,70,0.75)" stroke-width="1"/>
<rect x="1210.2" y="280.4" width="23.2" height="30" fill="rgba(255,40,60,0.13)" stroke="rgba(255,70,70,0.75)" stroke-width="1"/>
<rect x="106.4" y="407.2" width="15.8" height="71.1" fill="rgba(60,150,40,0.13)" stroke="rgba(60,170,50,0.8)" stroke-width="1"/>
<rect x="280.1" y="395.1" width="14.7" height="52.4" fill="rgba(60,150,40,0.13)" stroke="rgba(60,170,50,0.8)" stroke-width="1"/>
<rect x="871.3" y="272.4" width="16" height="59.1" fill="rgba(60,150,40,0.13)" stroke="rgba(60,170,50,0.8)" stroke-width="1"/>
<rect x="942.2" y="315.5" width="15.6" height="33.2" fill="rgba(60,150,40,0.13)" stroke="rgba(60,170,50,0.8)" stroke-width="1"/>
<rect x="1021.2" y="331.6" width="23.1" height="47.1" fill="rgba(60,150,40,0.13)" stroke="rgba(60,170,50,0.8)" stroke-width="1"/>
</g>
<g id="plabels" font-size="12" fill="#9b9b9b">
<text transform="translate(8.2 367.7) rotate(90)" text-anchor="end">Harami</text>
<text transform="translate(23.9 376.6) rotate(90)" text-anchor="end">Engulfing</text>
<text transform="translate(43.6 351.2) rotate(90)" text-anchor="end">Three Inside</text>
<text transform="translate(79 390.6) rotate(90)" text-anchor="end">Harami</text>
<text transform="translate(181.3 390.2) rotate(90)" text-anchor="end">Harami</text>
<text transform="translate(205.7 373.6) rotate(90)" text-anchor="end">Harami</text>
<text transform="translate(244.6 299.5) rotate(90)" text-anchor="end">Engulfing</text>
<text transform="translate(260.5 325.2) rotate(90)" text-anchor="end">Engulfing</text>
<text transform="translate(449.4 320.4) rotate(90)" text-anchor="end">Dk Cloud</text>
<text transform="translate(480.9 305.5) rotate(90)" text-anchor="end">Engulfing</text>
<text transform="translate(587.5 244.4) rotate(90)" text-anchor="end">Spinning Top</text>
<text transform="translate(630.9 255.4) rotate(90)" text-anchor="end">Harami</text>
<text transform="translate(654.1 246.4) rotate(90)" text-anchor="end">Harami</text>
<text transform="translate(717.6 176.5) rotate(90)" text-anchor="end">Engulfing</text>
<text transform="translate(733.2 181.4) rotate(90)" text-anchor="end">Harami</text>
<text transform="translate(1060.5 289.3) rotate(90)" text-anchor="end">Three Inside</text>
<text transform="translate(1218.2 275.4) rotate(90)" text-anchor="end">Three Outside</text>
<text transform="translate(117.1 483.3) rotate(-90)" text-anchor="end">Harami</text>
<text transform="translate(290.3 452.5) rotate(-90)" text-anchor="end">Harami</text>
<text transform="translate(882.1 336.5) rotate(-90)" text-anchor="end">Harami</text>
<text transform="translate(952.8 353.7) rotate(-90)" text-anchor="end">Engulfing</text>
<text transform="translate(1035.5 383.7) rotate(-90)" text-anchor="end">Three Outside</text>
</g>
<line x1="701.9" x2="1297" y1="165.7" y2="165.7" stroke="#c8747c" stroke-width="1.5" stroke-dasharray="4.3 3.6"/>
<rect x="1301" y="163" width="5.5" height="5.5" fill="#a62a3a"/>
<text x="1310.3" y="168.8" font-family="'Liberation Serif', serif" font-size="13" fill="#a0303f">2</text>
<line x1="110.3" y1="475.6" x2="1301" y2="441.3" stroke="#5fb0b5" stroke-width="1.3"/>
<path d="M173.5 455.6 L1301 445.1" fill="none" stroke="#238d99" stroke-width="1.5"/>
<path d="M0 332.3 C1.1 332.9 13.6 339.2 15 339.8 C16.4 340.4 17.3 339.1 18.6 340.5 C19.9 341.9 30.3 357.2 32.3 358.6 C34.3 360 44.2 359.1 45.9 359.4 C47.6 359.7 53.5 362.5 55.2 362.9 C56.9 363.3 66.6 364.7 68.8 365.1 C71 365.5 81.6 368.8 84.6 368.7 C87.6 368.6 107.2 362.9 109.7 363.2 C112.2 363.5 117.1 372.4 118.3 373.3 C119.5 374.2 124.5 375.7 126.2 375.8 C127.9 375.9 139.7 374.5 141.9 374.4 C144.1 374.3 154.6 374 156.3 374.1 C158 374.2 163.6 375.2 164.9 375.6 C166.2 376 171.8 378.9 173.5 379.4 C175.2 379.9 186.8 381.4 188.5 382.3 C190.2 383.2 196 390.3 197.2 391 C198.4 391.7 204.1 391.6 205.3 391.5 C206.5 391.4 212.1 389.8 213.3 389.2 C214.5 388.6 220.3 384.6 221.4 383.5 C222.5 382.4 227.6 375.6 228.6 373.6 C229.6 371.6 233.8 358.5 234.9 355.6 C236 352.7 242.6 336.3 243.8 334.1 C245 331.9 250.7 326.3 251.9 325.1 C253.1 323.9 258 318.9 259.6 318.3 C261.2 317.8 272.1 317.7 274.4 317.6 C276.7 317.5 288.1 317.5 290.5 317.6 C292.9 317.7 304.3 318.8 306.7 318.8 C309.1 318.8 320.4 317.6 322.8 317 C325.2 316.4 336.3 312 339 311.1 C341.7 310.2 357.3 305.8 359.9 304.8 C362.5 303.8 373 298.1 374.9 297.3 C376.8 296.5 384 294 385.3 293.7 C386.6 293.4 391.6 293.3 392.8 293.7 C394 294.1 400 299 401.8 299.4 C403.6 299.8 414.5 298.8 416.7 298.8 C418.9 298.8 429.9 299 431.7 299.4 C433.5 299.8 439.2 303.8 440.7 304.8 C442.2 305.8 451 311.6 452.6 312.8 C454.2 314 461.7 319.8 463.1 320.7 C464.5 321.6 470.9 324.9 472.1 324.8 C473.3 324.7 478.2 320.2 479.6 319.7 C481 319.2 489.3 318.6 491.5 318.2 C493.7 317.8 507.1 314.8 509.5 314.7 C511.9 314.6 522 316.5 524.4 316.7 C526.8 316.9 540.4 317.7 542.4 317.6 C544.4 317.5 550.1 315.6 551.4 314.7 C552.7 313.8 559 306.3 560.3 304.8 C561.6 303.3 567.8 296.2 569.3 294.3 C570.8 292.4 579.5 281.5 581.3 279.4 C583.1 277.3 591.4 267.5 593.2 265.9 C595 264.3 603 258.4 605.2 257.5 C607.4 256.6 620.2 254.3 623.1 253.3 C626 252.3 641.5 244.7 644.1 243.5 C646.7 242.3 656.7 238.7 659 237.5 C661.3 236.3 672.7 228.7 675 226.7 C677.3 224.7 687.7 212.9 689.9 210.3 C692.1 207.7 702.7 193.2 704.9 190.9 C707.1 188.6 717.6 180.7 719.8 178.9 C722 177.1 732.6 168.5 734.8 166.9 C737 165.3 747.7 158.2 749.7 157.3 C751.7 156.4 759.7 155 761.7 155 C763.7 155 774.5 156.6 776.7 157 C778.9 157.4 789.2 160.6 791.6 160.9 C794 161.2 807 161.4 809.6 161.5 C812.2 161.6 825.1 162.3 827.5 162.4 C829.9 162.5 840.3 162.5 842.5 163.3 C844.7 164.1 855.6 172 857.4 172.9 C859.2 173.8 865.1 175.2 866.4 175 C867.7 174.8 873.6 170.4 875.4 169.9 C877.2 169.4 888.5 168.3 890.3 168.4 C892.1 168.5 897.5 170.2 899.3 171.4 C901.1 172.6 912.1 182.4 914.3 184.9 C916.5 187.4 927 203.2 929.2 204.9 C931.4 206.6 942 207.3 944.2 207.9 C946.4 208.5 957.1 212.6 959.1 213.3 C961.1 214 969.1 216.5 971.1 217.8 C973.1 219.1 984.1 228.2 986.1 230.6 C988.1 233 996.7 248.4 998 250.7 C999.3 253 1002.8 260.2 1003.6 262 C1004.4 263.8 1008 272.5 1009 274.6 C1010 276.7 1015.9 288.7 1017 290.7 C1018.1 292.7 1022.9 300.5 1024.2 301.5 C1025.5 302.5 1032.4 303.9 1034.1 304.2 C1035.8 304.5 1046.1 305.6 1047.5 305.6 C1048.9 305.6 1051.6 303.9 1052.9 303.6 C1054.2 303.3 1062.9 302 1064.6 301.8 C1066.2 301.6 1073.7 301 1075.4 300.9 C1077.1 300.8 1086.4 301.8 1087.9 300.9 C1089.4 300 1094.3 290.1 1095.5 288.4 C1096.7 286.7 1102.9 278.1 1104 277.2 C1105.1 276.3 1110 276.2 1111.1 276.3 C1112.2 276.4 1118.1 278 1119.2 278.1 C1120.3 278.2 1125.2 277.5 1126.4 277.7 C1127.6 277.9 1134 280.1 1135.4 280.8 C1136.8 281.5 1144.5 286.1 1146.1 287 C1147.7 287.9 1155.3 292.4 1156.9 293 C1158.5 293.6 1165.9 295.1 1167.7 295.1 C1169.5 295.1 1180.3 293.5 1182 293 C1183.7 292.5 1189.7 288.9 1191 287.9 C1192.3 286.9 1198.8 280 1200 279 C1201.2 278 1205.9 274.3 1207.2 273.6 C1208.5 272.9 1216.4 270.4 1217.9 269.8 C1219.4 269.2 1225.6 265.8 1227 265 C1228.4 264.2 1236.7 259 1237.5 258.5" fill="none" stroke="#9a3a6e" stroke-width="1.3" stroke-linejoin="round"/>
<path d="M0 524 C1.3 523.7 15.8 520.5 18 519.5 C20.2 518.5 28.6 510.5 30 510 C31.4 509.5 35.5 512.5 37.4 512.6 C39.3 512.7 52.9 511.4 55.3 511.4 C57.7 511.4 68 513.3 70.3 512.6 C72.6 511.9 84.4 502.8 86.7 501.5 C89 500.2 99.9 495.2 101.7 494.6 C103.5 494 109.5 494.4 110.7 493.5 C111.9 492.6 117.1 483.8 118.2 482.1 C119.3 480.4 123.9 471.5 125.6 470.1 C127.3 468.7 139.1 463.3 142 462.6 C144.9 461.9 161.1 461.2 164.5 461.2 C167.9 461.2 186 463.5 188.4 463.2 C190.8 462.9 195 457.4 197.4 457.3 C199.8 457.2 218.9 461.1 221.4 462 C223.9 462.9 230.2 468.6 231.8 470.1 C233.4 471.6 241.8 481 243.8 482.1 C245.8 483.2 256.9 485.2 258.8 484.8 C260.7 484.4 267.9 477.1 269.2 476.1 C270.5 475.1 275.4 471.5 276.7 471 C278 470.5 285.6 469.2 287.2 469.2 C288.8 469.2 296.9 471.6 299.1 471.6 C301.3 471.6 314.7 469.3 317.1 468.6 C319.5 467.9 329.7 463.8 332 462.6 C334.3 461.4 345.7 454.1 348 452.9 C350.3 451.7 360.7 446.7 362.9 446 C365.1 445.3 375.7 443.6 377.9 443.3 C380.1 443 391 442.7 392.8 442.4 C394.6 442.1 400.5 439.5 401.8 439.4 C403.1 439.3 409 440.8 410.8 440.9 C412.6 441 424.1 440.6 425.7 440.3 C427.3 440 431.8 438.8 433.2 437.3 C434.6 435.8 443.6 422.7 445.2 420 C446.8 417.3 454.2 403 455.6 400.5 C457 398 463.3 387.5 464.6 385.6 C465.9 383.7 471.2 376 473 375.1 C474.8 374.2 486.3 373 488.5 372.7 C490.7 372.4 501.2 370.9 503.5 370.6 C505.8 370.3 517.1 369.1 520 369.1 C522.9 369.1 540 369.7 542.4 370 C544.8 370.3 550.9 371.9 552.9 372.7 C554.9 373.5 567 379.5 569.3 380.5 C571.6 381.5 582.8 385.8 584.3 386.2 C585.8 386.6 588.8 386.5 590.3 386.2 C591.8 385.9 602.8 383.4 605.2 382.6 C607.6 381.8 620.5 375.8 623.1 375.1 C625.7 374.4 638.5 373.4 641.1 372.7 C643.7 372 656.7 366.9 659 366.1 C661.3 365.3 670.1 362.9 672 362 C673.9 361.1 683.9 354.1 685.4 353.3 C686.9 352.5 691.1 352.2 692.9 350.9 C694.7 349.6 707.6 337.1 709.4 335.9 C711.2 334.7 715.2 335.1 716.8 334.4 C718.4 333.7 729.4 328.1 731.8 327 C734.2 325.9 747.3 320.9 749.7 319.5 C752.1 318.1 762.5 309.5 764.7 307.5 C766.9 305.5 777.9 293.2 779.7 291.9 C781.5 290.6 787.4 289.9 788.6 289.2 C789.8 288.5 795 283.6 796.1 282.9 C797.2 282.2 802.4 279.9 803.6 279.7 C804.8 279.5 810.8 280.5 812.6 280.6 C814.4 280.7 825.3 280.5 827.5 280.6 C829.7 280.7 840.3 282 842.5 282.1 C844.7 282.2 856 281.5 857.4 281.6 C858.8 281.7 861.3 283.1 862 283.5 C862.7 283.9 866.5 286.3 867.2 287.1 C867.9 287.9 870.7 293.3 871.5 294.6 C872.3 295.9 876.4 302.6 877.9 305.1 C879.4 307.6 889.8 326.9 891.4 329.3 C893 331.7 897.9 335.9 899.5 337.4 C901.1 338.9 912.2 348.9 913.8 349.9 C915.4 350.9 920.7 351.5 921.9 351.7 C923.1 351.9 928.7 351.8 930 352.3 C931.3 352.8 937.6 357.7 939 358.9 C940.4 360.1 948.1 367.5 949.7 368.8 C951.3 370.1 959 376 960.5 376.9 C962 377.8 968.6 381.3 970.4 381.7 C972.2 382.1 983.7 382.2 985.6 381.7 C987.5 381.2 994.7 376.4 996.4 375.1 C998.1 373.8 1007.4 365.6 1009 364.3 C1010.6 363 1016.7 357.4 1017.9 356.8 C1019.1 356.2 1024 355.7 1025.1 355.9 C1026.2 356.1 1031.9 359.4 1033.2 359.8 C1034.5 360.2 1041.4 361.6 1043.1 362 C1044.8 362.4 1054.9 364.6 1056.5 364.7 C1058.1 364.8 1063.4 363.8 1064.6 363.8 C1065.8 363.8 1071.5 364.9 1072.7 365.2 C1073.9 365.5 1079.6 367.4 1080.7 367.9 C1081.8 368.4 1087 370.5 1087.9 371.8 C1088.8 373.1 1092.5 382.9 1093.3 385 C1094.1 387.1 1097.8 399.1 1098.6 401.1 C1099.4 403.1 1103.1 411.2 1104 412.8 C1104.9 414.4 1109.7 421.5 1111.1 422.7 C1112.5 423.9 1121 428.1 1122.8 429 C1124.6 429.9 1133.7 435.1 1135.4 435.6 C1137.1 436.1 1144.4 435.4 1146.1 435.2 C1147.8 435 1156.9 433.6 1158.7 433.5 C1160.5 433.4 1169.6 433.5 1171.3 433.5 C1173 433.5 1180.6 433.6 1182 433.8 C1183.4 434 1189.8 435.7 1191 436.1 C1192.2 436.5 1197 438.8 1198.2 439.2 C1199.4 439.6 1205.8 440.9 1207.2 441.2 C1208.6 441.5 1216.3 442.6 1217.9 442.8 C1219.5 443 1227.2 444 1228.7 444.2 C1230.2 444.4 1237 445 1237.7 445.1" fill="none" stroke="#9a3a6e" stroke-width="1.3" stroke-linejoin="round"/>
<path d="M0 428.8 C6 429.6 6 428.7 18 431.2 C30 433.7 23.5 434.3 35.9 436.3 C48.3 438.3 41.8 436.4 55.3 437.2 C68.8 438 64.8 439.7 76.3 438.7 C87.8 437.7 79.2 437.4 89.7 434.2 C100.2 431 95.7 432.6 107.7 429.1 C119.7 425.6 114.6 427.3 125.6 423.8 C136.6 420.3 129.6 420.5 140.6 418.7 C151.6 416.9 146.5 417.2 158.5 418.4 C170.5 419.6 164.5 420.2 176.5 422.3 C188.5 424.4 184.5 423.7 194.4 424.7 C204.3 425.7 198.7 425.6 206.2 425.3 C213.7 425 209.4 425.8 216.9 423.8 C224.4 421.8 219.6 424.4 228.6 419.3 C237.6 414.2 233.3 414.9 243.8 408.6 C254.3 402.3 249.2 405.3 260 400.5 C270.8 395.7 265.9 396.6 276.1 394.2 C286.3 391.8 282.4 393 290.5 393.3 C298.6 393.6 292 395.1 300.4 395.1 C308.8 395.1 307.8 394.6 315.6 393.3 C323.4 392 315.9 394.2 323.7 391.2 C331.5 388.2 330.9 387.6 339 384.4 C347.1 381.2 339.8 385.3 347.9 381.7 C356 378.1 353 377.8 363.2 373.6 C373.4 369.4 368.5 371.1 378.4 369.1 C388.3 367.1 382.6 367.3 392.8 367.7 C403 368.1 397 369.9 409 370.4 C421 370.9 418.4 370.4 428.7 369.1 C439 367.8 431 369.9 440 366.4 C449 362.9 445.4 364.2 455.6 358.6 C465.8 353 460.6 354.4 470.6 349.7 C480.6 345 474.6 346.8 485.6 344.6 C496.6 342.4 491.6 343.7 503.5 343.1 C515.4 342.5 509.4 342.4 521.4 342.8 C533.4 343.2 528.9 344 539.4 344.3 C549.9 344.6 542.9 345.7 552.9 343.7 C562.9 341.7 558.8 342.3 569.3 338.3 C579.8 334.3 574.3 336.9 584.3 331.7 C594.3 326.5 589.2 327.7 599.2 322.7 C609.2 317.7 604.2 320.2 614.2 316.7 C624.2 313.2 619.1 315.1 629.1 312.3 C639.1 309.5 634.1 311.9 644.1 308.4 C654.1 304.9 651.4 305.6 659 301.8 C666.6 298 661.7 300.6 667 297 C672.3 293.4 669 296.1 675 291.1 C681 286.1 677.7 289.4 685 282 C692.3 274.6 688.9 276.4 697 269 C705.1 261.6 699.8 265.8 709.4 259.7 C719 253.6 714.3 256.7 725.8 250.7 C737.3 244.7 730.8 248.2 743.8 241.7 C756.8 235.2 752.7 236.7 764.7 231.2 C776.7 225.7 770.7 228.3 779.7 225.3 C788.7 222.3 783.6 223.8 791.6 222.3 C799.6 220.8 791.6 221.1 803.6 220.8 C815.6 220.5 813.5 220.6 827.5 221.4 C841.5 222.2 835 221.2 845.5 223.2 C856 225.2 852 224.6 859 227.3 C866 230 858.9 226.9 866.4 231.2 C873.9 235.5 870.4 232.7 881.4 240.2 C892.4 247.7 888.3 244.7 899.3 253.7 C910.3 262.7 904.1 258.7 914.3 267.1 C924.5 275.5 919.4 272.1 930 279 C940.6 285.9 935.6 282.2 946.1 287.7 C956.6 293.2 951.4 290.7 961.6 295.6 C971.8 300.5 967.5 298.3 976.7 302.4 C985.9 306.5 980.8 303.9 989.2 307.8 C997.6 311.7 994 309.5 1001.8 314 C1009.6 318.5 1005.3 316.4 1012.5 321.2 C1019.7 326 1016.1 324.8 1023.3 328.4 C1030.5 332 1026.9 330.2 1034.1 332 C1041.3 333.8 1037.1 333.3 1044.9 333.8 C1052.7 334.3 1049.6 333.6 1057.4 333.4 C1065.2 333.2 1061 333 1068.2 333.2 C1075.4 333.4 1071.8 332.4 1079 334.1 C1086.2 335.8 1082.5 335.1 1089.7 338.3 C1096.9 341.5 1093.1 340 1100.5 343.7 C1107.9 347.4 1103.4 345.8 1112 349.3 C1120.6 352.8 1116.8 350.8 1126.4 354.3 C1136 357.8 1131.8 356.7 1140.8 359.7 C1149.8 362.7 1144.3 361.8 1153.3 363.3 C1162.3 364.8 1158.1 364.2 1167.7 364.2 C1177.3 364.2 1173.6 364.4 1182 363.3 C1190.4 362.2 1184.4 362.8 1192.8 361 C1201.2 359.2 1197.6 359.5 1207.2 357.9 C1216.8 356.3 1213.7 357.3 1221.5 356.1 C1229.3 354.9 1225.1 355.7 1230.5 354.3 C1235.9 352.9 1235.3 352.8 1237.7 352" fill="none" stroke="#0b84c6" stroke-width="2" stroke-linejoin="round" stroke-linecap="round"/>
<rect x="0" y="510.5" width="424" height="24" fill="rgba(255,255,255,0.87)"/>
<rect x="0" y="540.5" width="246" height="32.5" fill="rgba(255,255,255,0.87)"/>
<rect x="0" y="579" width="1339" height="1" fill="#7d7d7d"/>
<path d="M0 615.1 L8.8 612.1 L16.3 613.1 L23.8 612.9 L31.4 613.6 L39.6 610.4 L47.7 613.1 L55.2 616.4 L62.7 617.4 L71 619.7 L79 613.9 L87.1 615.6 L95.3 613.1 L102.9 613.4 L110.9 618.4 L118.7 615.1 L126.7 617.1 L134.7 613.4 L143 613.6 L150.5 614.4 L158.1 613.4 L166.1 615.1 L174.4 614.6 L181.9 612.6 L189.4 612.9 L197.4 614.4 L205.7 610.4 L213.7 611.1 L220.8 610.1 L228.8 605.9 L237.1 603.9 L244.6 602.6 L252.9 608.6 L260.9 607.6 L268.4 611.4 L276 615.6 L284.2 618.9 L292.3 617.1 L299.8 617.1 L307.3 615.6 L315.6 613.9 L323.6 609.6 L331.2 609.4 L339.2 609.9 L347.5 609.4 L355 608.1 L363.1 611.9 L370.6 608.9 L378.9 607.9 L386.4 608.4 L393.9 607.9 L402.2 611.4 L410.2 610.1 L418.3 609.4 L426.1 614.4 L434.1 614.9 L441.6 612.4 L449.6 611.1 L457.4 612.4 L465.4 611.9 L473.5 608.4 L481.2 608.1 L489.3 610.9 L496.8 613.6 L504.8 611.4 L512.6 609.9 L520.6 614.4 L528.7 614.6 L536.4 612.9 L544.5 613.4 L552.5 609.4 L560.3 606.9 L568.3 606.1 L575.8 606.4 L583.4 603.3 L590.9 602.6 L599.7 606.9 L607.2 608.9 L615.2 609.1 L623 609.1 L631 606.4 L639 609.9 L647.3 608.9 L654.8 605.9 L662.9 606.1 L670.7 604.1 L678.7 601.3 L686.3 600.8 L693.8 598.6 L702.1 599.3 L709.6 602.8 L717.6 602.1 L725.7 606.6 L733.2 604.4 L741.5 606.1 L749 606.4 L757.8 606.4 L765.3 605.9 L772.8 607.6 L780.9 616.4 L788.6 618.2 L796.7 617.4 L804.7 618.4 L812.2 618.2 L820.5 613.6 L828.5 614.9 L836 611.9 L844.3 611.6 L851.9 612.9 L859.4 614.9 L867.4 619.4 L875.7 624.7 L883.2 624.2 L891.2 625.9 L899 624.2 L907 622.9 L915.1 624.4 L922.9 621.7 L930.4 619.9 L938.9 622.7 L946.4 623.4 L954.2 620.2 L962.2 621.7 L970.3 621.2 L978 618.9 L986.1 616.9 L993.6 616.6 L1001.6 617.6 L1009.4 620.7 L1017.4 622.9 L1025 623.7 L1033 621 L1041 619.5 L1049 616 L1056.5 611.3 L1065 614.8 L1073 619 L1080 620.4 L1087.7 621.8 L1095.7 626.3 L1103.8 628.1 L1111.5 623.2 L1119.5 619 L1127.2 620.4 L1135.3 620 L1143.7 613.7 L1151.7 613 L1158.7 612.3 L1167.5 613.4 L1175.2 612.7 L1183.2 612.7 L1191.3 608.5 L1199 606.4 L1206.6 606.7 L1214.7 606 L1222.7 608.8 L1230.4 609.5 L1238.1 608.1" fill="none" stroke="#3a3a3a" stroke-width="1.15" stroke-linejoin="round"/>
<rect x="0" y="589.5" width="70.5" height="21" fill="rgba(255,255,255,0.87)"/>
<rect x="0" y="650" width="1340" height="1" fill="#7d7d7d"/>
<rect x="1340" y="71" width="55" height="585" fill="#fff"/>
<line x1="1339.5" x2="1339.5" y1="71" y2="651" stroke="#777" stroke-width="1.2"/>
<g font-size="9.3" fill="#555">
<line x1="1340" x2="1343" y1="103.5" y2="103.5" stroke="#777" stroke-width="1"/>
<text x="1345" y="106.1">9500</text>
<line x1="1340" x2="1343" y1="197.5" y2="197.5" stroke="#777" stroke-width="1"/>
<text x="1345" y="200.1">9000</text>
<line x1="1340" x2="1343" y1="291.5" y2="291.5" stroke="#777" stroke-width="1"/>
<text x="1345" y="294.1">8500</text>
<line x1="1340" x2="1343" y1="385.5" y2="385.5" stroke="#777" stroke-width="1"/>
<text x="1345" y="388.1">8000</text>
<line x1="1340" x2="1343" y1="480.5" y2="480.5" stroke="#777" stroke-width="1"/>
<text x="1345" y="483.1">7500</text>
<line x1="1340" x2="1343" y1="598.5" y2="598.5" stroke="#777" stroke-width="1"/>
<text x="1345" y="600.6">80</text>
<line x1="1340" x2="1343" y1="631.5" y2="631.5" stroke="#777" stroke-width="1"/>
<text x="1345" y="633.6">20</text>
</g>
<path d="M1340.2 258.4 L1347.6 250.89999999999998 H1388.3999999999999 Q1390.6 250.89999999999998 1390.6 253.09999999999997 V263.7 Q1390.6 265.9 1388.3999999999999 265.9 H1347.6 Z" fill="#82003c"/>
<text x="1352.8" y="261.79999999999995" font-size="9.6" font-weight="bold" fill="#fff">8674.75</text>
<path d="M1340.2 298.4 L1347.6 290.9 H1383.3999999999999 Q1385.6 290.9 1385.6 293.09999999999997 V303.7 Q1385.6 305.9 1383.3999999999999 305.9 H1347.6 Z" fill="#5f5aaa"/>
<text x="1352.8" y="301.79999999999995" font-size="9.6" font-weight="bold" fill="#fff">8462.8</text>
<path d="M1340.2 351.6 L1347.6 344.1 H1388.3999999999999 Q1390.6 344.1 1390.6 346.3 V356.90000000000003 Q1390.6 359.1 1388.3999999999999 359.1 H1347.6 Z" fill="#0b84c6"/>
<text x="1352.8" y="355.0" font-size="9.6" font-weight="bold" fill="#fff">8179.56</text>
<path d="M1340.2 444.9 L1347.6 437.4 H1388.3999999999999 Q1390.6 437.4 1390.6 439.59999999999997 V450.2 Q1390.6 452.4 1388.3999999999999 452.4 H1347.6 Z" fill="#82003c"/>
<text x="1352.8" y="448.29999999999995" font-size="9.6" font-weight="bold" fill="#fff">7684.36</text>
<path d="M1340.2 608.8 L1347.6 601.3 H1378.1999999999998 Q1380.3999999999999 601.3 1380.3999999999999 603.5 V614.0999999999999 Q1380.3999999999999 616.3 1378.1999999999998 616.3 H1347.6 Z" fill="#000"/>
<text x="1352.8" y="612.1999999999999" font-size="9.6" font-weight="bold" fill="#fff">60.29</text>
<g font-size="11.6" fill="#666" text-anchor="middle">
<line x1="67.5" x2="67.5" y1="651" y2="655.5" stroke="#8a8a8a" stroke-width="1"/>
<text x="67.5" y="665">2024</text>
<line x1="150.5" x2="150.5" y1="651" y2="655.5" stroke="#8a8a8a" stroke-width="1"/>
<text x="150.5" y="665">14</text>
<line x1="272.5" x2="272.5" y1="651" y2="655.5" stroke="#8a8a8a" stroke-width="1"/>
<text x="272.5" y="665">Feb</text>
<line x1="363.5" x2="363.5" y1="651" y2="655.5" stroke="#8a8a8a" stroke-width="1"/>
<text x="363.5" y="665">14</text>
<line x1="469.5" x2="469.5" y1="651" y2="655.5" stroke="#8a8a8a" stroke-width="1"/>
<text x="469.5" y="665">Mar</text>
<line x1="559.5" x2="559.5" y1="651" y2="655.5" stroke="#8a8a8a" stroke-width="1"/>
<text x="559.5" y="665">14</text>
<line x1="666.5" x2="666.5" y1="651" y2="655.5" stroke="#8a8a8a" stroke-width="1"/>
<text x="666.5" y="665">Apr</text>
<line x1="757.5" x2="757.5" y1="651" y2="655.5" stroke="#8a8a8a" stroke-width="1"/>
<text x="757.5" y="665">14</text>
<line x1="871.5" x2="871.5" y1="651" y2="655.5" stroke="#8a8a8a" stroke-width="1"/>
<text x="871.5" y="665">May</text>
<line x1="961.5" x2="961.5" y1="651" y2="655.5" stroke="#8a8a8a" stroke-width="1"/>
<text x="961.5" y="665">14</text>
<line x1="1084.5" x2="1084.5" y1="651" y2="655.5" stroke="#8a8a8a" stroke-width="1"/>
<text x="1084.5" y="665">Jun</text>
<line x1="1174.5" x2="1174.5" y1="651" y2="655.5" stroke="#8a8a8a" stroke-width="1"/>
<text x="1174.5" y="665">14</text>
<line x1="1289.5" x2="1289.5" y1="651" y2="655.5" stroke="#8a8a8a" stroke-width="1"/>
<text x="1289.5" y="665">Jul</text>
</g>
<g font-size="9" fill="#c6c6c6" text-anchor="middle">
<rect x="-6.8" y="685.9" width="15.2" height="9.8" rx="2" fill="#fff" stroke="#b3b3b3" stroke-width="1.4"/>
<line x1="-3.5" x2="-3.5" y1="684.3" y2="686.5" stroke="#b3b3b3" stroke-width="1.3"/>
<line x1="5.1" x2="5.1" y1="684.3" y2="686.5" stroke="#b3b3b3" stroke-width="1.3"/>
<text x="0.8" y="694.2">8</text>
<rect x="56.4" y="685.9" width="15.2" height="9.8" rx="2" fill="#fff" stroke="#b3b3b3" stroke-width="1.4"/>
<line x1="59.7" x2="59.7" y1="684.3" y2="686.5" stroke="#b3b3b3" stroke-width="1.3"/>
<line x1="68.3" x2="68.3" y1="684.3" y2="686.5" stroke="#b3b3b3" stroke-width="1.3"/>
<text x="64" y="694.2">3</text>
<rect x="103.4" y="685.9" width="15.2" height="9.8" rx="2" fill="#fff" stroke="#b3b3b3" stroke-width="1.4"/>
<line x1="106.7" x2="106.7" y1="684.3" y2="686.5" stroke="#b3b3b3" stroke-width="1.3"/>
<line x1="115.3" x2="115.3" y1="684.3" y2="686.5" stroke="#b3b3b3" stroke-width="1.3"/>
<text x="111" y="694.2">5</text>
<rect x="150.4" y="685.9" width="15.2" height="9.8" rx="2" fill="#fff" stroke="#b3b3b3" stroke-width="1.4"/>
<line x1="153.7" x2="153.7" y1="684.3" y2="686.5" stroke="#b3b3b3" stroke-width="1.3"/>
<line x1="162.3" x2="162.3" y1="684.3" y2="686.5" stroke="#b3b3b3" stroke-width="1.3"/>
<text x="158" y="694.2">6</text>
<rect x="245.4" y="685.9" width="15.2" height="9.8" rx="2" fill="#fff" stroke="#b3b3b3" stroke-width="1.4"/>
<line x1="248.7" x2="248.7" y1="684.3" y2="686.5" stroke="#b3b3b3" stroke-width="1.3"/>
<line x1="257.3" x2="257.3" y1="684.3" y2="686.5" stroke="#b3b3b3" stroke-width="1.3"/>
<text x="253" y="694.2">6</text>
<g transform="translate(291.2 681.9)">
<rect width="18.7" height="14.9" fill="#fbe6e6"/>
<rect y="0.00" width="18.7" height="1.15" fill="#f4a6aa"/>
<rect y="2.29" width="18.7" height="1.15" fill="#f4a6aa"/>
<rect y="4.58" width="18.7" height="1.15" fill="#f4a6aa"/>
<rect y="6.87" width="18.7" height="1.15" fill="#f4a6aa"/>
<rect y="9.16" width="18.7" height="1.15" fill="#f4a6aa"/>
<rect y="11.45" width="18.7" height="1.15" fill="#f4a6aa"/>
<rect y="13.74" width="18.7" height="1.15" fill="#f4a6aa"/>
<rect width="8.6" height="7" fill="#97a0c8"/>
<path d="M1 1.8H7.6M1 3.5H7.6M1 5.2H7.6" stroke="#c3c8e0" stroke-width="0.6" stroke-dasharray="0.7 1"/>
</g>
<rect x="340.4" y="685.9" width="15.2" height="9.8" rx="2" fill="#fff" stroke="#b3b3b3" stroke-width="1.4"/>
<line x1="343.7" x2="343.7" y1="684.3" y2="686.5" stroke="#b3b3b3" stroke-width="1.3"/>
<line x1="352.3" x2="352.3" y1="684.3" y2="686.5" stroke="#b3b3b3" stroke-width="1.3"/>
<text x="348" y="694.2">12</text>
<rect x="434.4" y="685.9" width="15.2" height="9.8" rx="2" fill="#fff" stroke="#b3b3b3" stroke-width="1.4"/>
<line x1="437.7" x2="437.7" y1="684.3" y2="686.5" stroke="#b3b3b3" stroke-width="1.3"/>
<line x1="446.3" x2="446.3" y1="684.3" y2="686.5" stroke="#b3b3b3" stroke-width="1.3"/>
<text x="442" y="694.2">2</text>
<rect x="481.7" y="685.9" width="15.2" height="9.8" rx="2" fill="#fff" stroke="#b3b3b3" stroke-width="1.4"/>
<line x1="485.0" x2="485.0" y1="684.3" y2="686.5" stroke="#b3b3b3" stroke-width="1.3"/>
<line x1="493.6" x2="493.6" y1="684.3" y2="686.5" stroke="#b3b3b3" stroke-width="1.3"/>
<text x="489.3" y="694.2">3</text>
<rect x="529.4" y="685.9" width="15.2" height="9.8" rx="2" fill="#fff" stroke="#b3b3b3" stroke-width="1.4"/>
<line x1="532.7" x2="532.7" y1="684.3" y2="686.5" stroke="#b3b3b3" stroke-width="1.3"/>
<line x1="541.3" x2="541.3" y1="684.3" y2="686.5" stroke="#b3b3b3" stroke-width="1.3"/>
<text x="537" y="694.2">6</text>
<rect x="576.8" y="685.9" width="15.2" height="9.8" rx="2" fill="#fff" stroke="#b3b3b3" stroke-width="1.4"/>
<line x1="580.1" x2="580.1" y1="684.3" y2="686.5" stroke="#b3b3b3" stroke-width="1.3"/>
<line x1="588.6999999999999" x2="588.6999999999999" y1="684.3" y2="686.5" stroke="#b3b3b3" stroke-width="1.3"/>
<text x="584.4" y="694.2">7</text>
<rect x="623.9" y="685.9" width="15.2" height="9.8" rx="2" fill="#fff" stroke="#b3b3b3" stroke-width="1.4"/>
<line x1="627.2" x2="627.2" y1="684.3" y2="686.5" stroke="#b3b3b3" stroke-width="1.3"/>
<line x1="635.8" x2="635.8" y1="684.3" y2="686.5" stroke="#b3b3b3" stroke-width="1.3"/>
<text x="631.5" y="694.2">3</text>
<rect x="663.1" y="685.9" width="15.2" height="9.8" rx="2" fill="#fff" stroke="#b3b3b3" stroke-width="1.4"/>
<line x1="666.4000000000001" x2="666.4000000000001" y1="684.3" y2="686.5" stroke="#b3b3b3" stroke-width="1.3"/>
<line x1="675.0" x2="675.0" y1="684.3" y2="686.5" stroke="#b3b3b3" stroke-width="1.3"/>
<text x="670.7" y="694.2">4</text>
<rect x="710.5" y="685.9" width="15.2" height="9.8" rx="2" fill="#fff" stroke="#b3b3b3" stroke-width="1.4"/>
<line x1="713.8000000000001" x2="713.8000000000001" y1="684.3" y2="686.5" stroke="#b3b3b3" stroke-width="1.3"/>
<line x1="722.4" x2="722.4" y1="684.3" y2="686.5" stroke="#b3b3b3" stroke-width="1.3"/>
<text x="718.1" y="694.2">4</text>
<rect x="758.1999999999999" y="685.9" width="15.2" height="9.8" rx="2" fill="#fff" stroke="#b3b3b3" stroke-width="1.4"/>
<line x1="761.5" x2="761.5" y1="684.3" y2="686.5" stroke="#b3b3b3" stroke-width="1.3"/>
<line x1="770.0999999999999" x2="770.0999999999999" y1="684.3" y2="686.5" stroke="#b3b3b3" stroke-width="1.3"/>
<text x="765.8" y="694.2">6</text>
<rect x="852.1999999999999" y="685.9" width="15.2" height="9.8" rx="2" fill="#fff" stroke="#b3b3b3" stroke-width="1.4"/>
<line x1="855.5" x2="855.5" y1="684.3" y2="686.5" stroke="#b3b3b3" stroke-width="1.3"/>
<line x1="864.0999999999999" x2="864.0999999999999" y1="684.3" y2="686.5" stroke="#b3b3b3" stroke-width="1.3"/>
<text x="859.8" y="694.2">6</text>
<rect x="899.6999999999999" y="685.9" width="15.2" height="9.8" rx="2" fill="#fff" stroke="#b3b3b3" stroke-width="1.4"/>
<line x1="903.0" x2="903.0" y1="684.3" y2="686.5" stroke="#b3b3b3" stroke-width="1.3"/>
<line x1="911.5999999999999" x2="911.5999999999999" y1="684.3" y2="686.5" stroke="#b3b3b3" stroke-width="1.3"/>
<text x="907.3" y="694.2">4</text>
<rect x="947.1999999999999" y="685.9" width="15.2" height="9.8" rx="2" fill="#fff" stroke="#b3b3b3" stroke-width="1.4"/>
<line x1="950.5" x2="950.5" y1="684.3" y2="686.5" stroke="#b3b3b3" stroke-width="1.3"/>
<line x1="959.0999999999999" x2="959.0999999999999" y1="684.3" y2="686.5" stroke="#b3b3b3" stroke-width="1.3"/>
<text x="954.8" y="694.2">5</text>
<rect x="994.8" y="685.9" width="15.2" height="9.8" rx="2" fill="#fff" stroke="#b3b3b3" stroke-width="1.4"/>
<line x1="998.1" x2="998.1" y1="684.3" y2="686.5" stroke="#b3b3b3" stroke-width="1.3"/>
<line x1="1006.6999999999999" x2="1006.6999999999999" y1="684.3" y2="686.5" stroke="#b3b3b3" stroke-width="1.3"/>
<text x="1002.4" y="694.2">4</text>
<g transform="translate(1039.0 681.9)">
<rect width="18.7" height="14.9" fill="#fbe6e6"/>
<rect y="0.00" width="18.7" height="1.15" fill="#f4a6aa"/>
<rect y="2.29" width="18.7" height="1.15" fill="#f4a6aa"/>
<rect y="4.58" width="18.7" height="1.15" fill="#f4a6aa"/>
<rect y="6.87" width="18.7" height="1.15" fill="#f4a6aa"/>
<rect y="9.16" width="18.7" height="1.15" fill="#f4a6aa"/>
<rect y="11.45" width="18.7" height="1.15" fill="#f4a6aa"/>
<rect y="13.74" width="18.7" height="1.15" fill="#f4a6aa"/>
<rect width="8.6" height="7" fill="#97a0c8"/>
<path d="M1 1.8H7.6M1 3.5H7.6M1 5.2H7.6" stroke="#c3c8e0" stroke-width="0.6" stroke-dasharray="0.7 1"/>
</g>
<rect x="1089.0" y="685.9" width="15.2" height="9.8" rx="2" fill="#fff" stroke="#b3b3b3" stroke-width="1.4"/>
<line x1="1092.3" x2="1092.3" y1="684.3" y2="686.5" stroke="#b3b3b3" stroke-width="1.3"/>
<line x1="1100.8999999999999" x2="1100.8999999999999" y1="684.3" y2="686.5" stroke="#b3b3b3" stroke-width="1.3"/>
<text x="1096.6" y="694.2">4</text>
<rect x="1136.1000000000001" y="685.9" width="15.2" height="9.8" rx="2" fill="#fff" stroke="#b3b3b3" stroke-width="1.4"/>
<line x1="1139.4" x2="1139.4" y1="684.3" y2="686.5" stroke="#b3b3b3" stroke-width="1.3"/>
<line x1="1148.0" x2="1148.0" y1="684.3" y2="686.5" stroke="#b3b3b3" stroke-width="1.3"/>
<text x="1143.7" y="694.2">7</text>
<rect x="1183.7" y="685.9" width="15.2" height="9.8" rx="2" fill="#fff" stroke="#b3b3b3" stroke-width="1.4"/>
<line x1="1187.0" x2="1187.0" y1="684.3" y2="686.5" stroke="#b3b3b3" stroke-width="1.3"/>
<line x1="1195.6" x2="1195.6" y1="684.3" y2="686.5" stroke="#b3b3b3" stroke-width="1.3"/>
<text x="1191.3" y="694.2">7</text>
<rect x="1230.9" y="685.9" width="15.2" height="9.8" rx="2" fill="#fff" stroke="#b3b3b3" stroke-width="1.4"/>
<line x1="1234.2" x2="1234.2" y1="684.3" y2="686.5" stroke="#b3b3b3" stroke-width="1.3"/>
<line x1="1242.8" x2="1242.8" y1="684.3" y2="686.5" stroke="#b3b3b3" stroke-width="1.3"/>
<text x="1238.5" y="694.2">3</text>
</g>
<rect x="0" y="706" width="1395" height="38.5" fill="#d9d9d9"/>
<rect x="848" y="706" width="535" height="38.5" fill="#fff"/>
<line x1="848" x2="1383" y1="706.5" y2="706.5" stroke="#e6e6e6" stroke-width="1"/>
<line x1="8.5" x2="8.5" y1="706" y2="748" stroke="#cdcdcd" stroke-width="1"/>
<line x1="88.5" x2="88.5" y1="706" y2="748" stroke="#cdcdcd" stroke-width="1"/>
<line x1="262.5" x2="262.5" y1="706" y2="748" stroke="#cdcdcd" stroke-width="1"/>
<line x1="440.5" x2="440.5" y1="706" y2="748" stroke="#cdcdcd" stroke-width="1"/>
<line x1="617.5" x2="617.5" y1="706" y2="748" stroke="#cdcdcd" stroke-width="1"/>
<line x1="798.5" x2="798.5" y1="706" y2="748" stroke="#cdcdcd" stroke-width="1"/>
<line x1="875.5" x2="875.5" y1="706" y2="748" stroke="#e0e0e0" stroke-width="1"/>
<line x1="966.5" x2="966.5" y1="706" y2="748" stroke="#e0e0e0" stroke-width="1"/>
<line x1="1137.5" x2="1137.5" y1="706" y2="748" stroke="#e0e0e0" stroke-width="1"/>
<line x1="1317.5" x2="1317.5" y1="706" y2="748" stroke="#e0e0e0" stroke-width="1"/>
<rect x="0" y="744" width="1395" height="1" fill="#808080"/>
<g font-size="11.6" fill="#666" text-anchor="middle">
<line x1="8.5" x2="8.5" y1="744" y2="748" stroke="#888" stroke-width="1"/>
<text x="9.6" y="758.9">Mar</text>
<line x1="88.5" x2="88.5" y1="744" y2="748" stroke="#888" stroke-width="1"/>
<text x="88.5" y="758.9">Apr</text>
<line x1="262.5" x2="262.5" y1="744" y2="748" stroke="#888" stroke-width="1"/>
<text x="262.5" y="758.9">Jun</text>
<line x1="440.5" x2="440.5" y1="744" y2="748" stroke="#888" stroke-width="1"/>
<text x="440.5" y="758.9">Aug</text>
<line x1="617.5" x2="617.5" y1="744" y2="748" stroke="#888" stroke-width="1"/>
<text x="617.5" y="758.9">Oct</text>
<line x1="798.5" x2="798.5" y1="744" y2="748" stroke="#888" stroke-width="1"/>
<text x="798.5" y="758.9">Dec</text>
<line x1="875.5" x2="875.5" y1="744" y2="748" stroke="#888" stroke-width="1"/>
<text x="875.5" y="758.9">2024</text>
<line x1="966.5" x2="966.5" y1="744" y2="748" stroke="#888" stroke-width="1"/>
<text x="966.5" y="758.9">Feb</text>
<line x1="1137.5" x2="1137.5" y1="744" y2="748" stroke="#888" stroke-width="1"/>
<text x="1137.5" y="758.9">Apr</text>
<line x1="1317.5" x2="1317.5" y1="744" y2="748" stroke="#888" stroke-width="1"/>
<text x="1317.5" y="758.9">Jun</text>
</g>
<g id="nav">
<rect x="-0.2" y="722.6" width="2.5" height="2.6" fill="#cb2535"/>
<rect x="3.2" y="722.6" width="2.5" height="2.6" fill="#0a8290"/>
<rect x="6.6" y="722.6" width="2.5" height="2.6" fill="#0a8290"/>
<rect x="7.4" y="721.3" width="0.9" height="1.5" fill="#0a8290"/>
<rect x="10.1" y="722.6" width="2.5" height="2.6" fill="#cb2535"/>
<rect x="10.9" y="721.3" width="0.9" height="1.5" fill="#cb2535"/>
<rect x="13.5" y="723.2" width="2.5" height="2.6" fill="#0a8290"/>
<rect x="16.9" y="724.1" width="2.5" height="2.6" fill="#cb2535"/>
<rect x="17.7" y="722.8" width="0.9" height="1.5" fill="#cb2535"/>
<rect x="20.3" y="724.6" width="2.5" height="2.6" fill="#0a8290"/>
<rect x="23.7" y="724.6" width="2.5" height="2.6" fill="#cb2535"/>
<rect x="27.2" y="724.6" width="2.5" height="2.6" fill="#0a8290"/>
<rect x="30.6" y="724.8" width="2.5" height="2.6" fill="#cb2535"/>
<rect x="31.4" y="723.5" width="0.9" height="1.5" fill="#cb2535"/>
<rect x="34" y="726.8" width="2.5" height="2.6" fill="#0a8290"/>
<rect x="37.4" y="728.8" width="2.5" height="2.6" fill="#cb2535"/>
<rect x="38.2" y="727.5" width="0.9" height="1.5" fill="#cb2535"/>
<rect x="40.8" y="730.1" width="2.5" height="2.6" fill="#cb2535"/>
<rect x="44.3" y="730.9" width="2.5" height="2.6" fill="#cb2535"/>
<rect x="47.7" y="731.6" width="2.5" height="2.6" fill="#cb2535"/>
<rect x="48.5" y="730.3" width="0.9" height="1.5" fill="#cb2535"/>
<rect x="51.1" y="731.4" width="2.5" height="2.6" fill="#cb2535"/>
<rect x="54.5" y="730.7" width="2.5" height="2.6" fill="#0a8290"/>
<rect x="57.9" y="729.9" width="2.5" height="2.6" fill="#cb2535"/>
<rect x="58.7" y="728.6" width="0.9" height="1.5" fill="#cb2535"/>
<rect x="61.4" y="729.8" width="2.5" height="2.6" fill="#cb2535"/>
<rect x="64.8" y="730" width="2.5" height="2.6" fill="#0a8290"/>
<rect x="68.2" y="730.2" width="2.5" height="2.6" fill="#0a8290"/>
<rect x="71.6" y="729.2" width="2.5" height="2.6" fill="#0a8290"/>
<rect x="72.4" y="727.9" width="0.9" height="1.5" fill="#0a8290"/>
<rect x="75" y="728.2" width="2.5" height="2.6" fill="#0a8290"/>
<rect x="75.8" y="726.9" width="0.9" height="1.5" fill="#0a8290"/>
<rect x="78.5" y="728" width="2.5" height="2.6" fill="#0a8290"/>
<rect x="81.9" y="727.8" width="2.5" height="2.6" fill="#cb2535"/>
<rect x="85.3" y="726" width="2.5" height="2.6" fill="#cb2535"/>
<rect x="88.7" y="722.5" width="2.5" height="2.6" fill="#cb2535"/>
<rect x="92.1" y="722.7" width="2.5" height="2.6" fill="#cb2535"/>
<rect x="95.6" y="722.9" width="2.5" height="2.6" fill="#cb2535"/>
<rect x="99" y="723.1" width="2.5" height="2.6" fill="#0a8290"/>
<rect x="102.4" y="722.9" width="2.5" height="2.6" fill="#0a8290"/>
<rect x="105.8" y="722.6" width="2.5" height="2.6" fill="#0a8290"/>
<rect x="109.2" y="722.4" width="2.5" height="2.6" fill="#cb2535"/>
<rect x="112.7" y="722.1" width="2.5" height="2.6" fill="#0a8290"/>
<rect x="116.1" y="721.8" width="2.5" height="2.6" fill="#0a8290"/>
<rect x="116.9" y="720.5" width="0.9" height="1.5" fill="#0a8290"/>
<rect x="119.5" y="721.6" width="2.5" height="2.6" fill="#cb2535"/>
<rect x="122.9" y="722" width="2.5" height="2.6" fill="#0a8290"/>
<rect x="126.3" y="722.3" width="2.5" height="2.6" fill="#0a8290"/>
<rect x="127.1" y="721" width="0.9" height="1.5" fill="#0a8290"/>
<rect x="129.8" y="722.7" width="2.5" height="2.6" fill="#0a8290"/>
<rect x="133.2" y="723.6" width="2.5" height="2.6" fill="#0a8290"/>
<rect x="134" y="722.3" width="0.9" height="1.5" fill="#0a8290"/>
<rect x="136.6" y="724.5" width="2.5" height="2.6" fill="#cb2535"/>
<rect x="140" y="725.2" width="2.5" height="2.6" fill="#0a8290"/>
<rect x="143.4" y="725.2" width="2.5" height="2.6" fill="#cb2535"/>
<rect x="146.9" y="725.2" width="2.5" height="2.6" fill="#0a8290"/>
<rect x="150.3" y="725.2" width="2.5" height="2.6" fill="#cb2535"/>
<rect x="153.7" y="726" width="2.5" height="2.6" fill="#0a8290"/>
<rect x="154.5" y="724.6" width="0.9" height="1.5" fill="#0a8290"/>
<rect x="157.1" y="727.3" width="2.5" height="2.6" fill="#0a8290"/>
<rect x="157.9" y="726" width="0.9" height="1.5" fill="#0a8290"/>
<rect x="160.5" y="727.9" width="2.5" height="2.6" fill="#0a8290"/>
<rect x="164" y="726.8" width="2.5" height="2.6" fill="#cb2535"/>
<rect x="164.8" y="725.5" width="0.9" height="1.5" fill="#cb2535"/>
<rect x="167.4" y="727.1" width="2.5" height="2.6" fill="#cb2535"/>
<rect x="170.8" y="727.6" width="2.5" height="2.6" fill="#cb2535"/>
<rect x="174.2" y="729.1" width="2.5" height="2.6" fill="#cb2535"/>
<rect x="177.6" y="731.1" width="2.5" height="2.6" fill="#cb2535"/>
<rect x="181.1" y="731.4" width="2.5" height="2.6" fill="#cb2535"/>
<rect x="184.5" y="729.7" width="2.5" height="2.6" fill="#0a8290"/>
<rect x="187.9" y="729.5" width="2.5" height="2.6" fill="#0a8290"/>
<rect x="191.3" y="729.3" width="2.5" height="2.6" fill="#0a8290"/>
<rect x="192.1" y="728" width="0.9" height="1.5" fill="#0a8290"/>
<rect x="194.7" y="729" width="2.5" height="2.6" fill="#0a8290"/>
<rect x="195.5" y="727.7" width="0.9" height="1.5" fill="#0a8290"/>
<rect x="198.2" y="729.1" width="2.5" height="2.6" fill="#0a8290"/>
<rect x="199" y="727.8" width="0.9" height="1.5" fill="#0a8290"/>
<rect x="201.6" y="729.7" width="2.5" height="2.6" fill="#cb2535"/>
<rect x="202.4" y="728.4" width="0.9" height="1.5" fill="#cb2535"/>
<rect x="205" y="730.3" width="2.5" height="2.6" fill="#0a8290"/>
<rect x="205.8" y="729" width="0.9" height="1.5" fill="#0a8290"/>
<rect x="208.4" y="730.5" width="2.5" height="2.6" fill="#cb2535"/>
<rect x="211.8" y="730" width="2.5" height="2.6" fill="#cb2535"/>
<rect x="215.3" y="729.5" width="2.5" height="2.6" fill="#0a8290"/>
<rect x="216.1" y="728.2" width="0.9" height="1.5" fill="#0a8290"/>
<rect x="218.7" y="729.3" width="2.5" height="2.6" fill="#cb2535"/>
<rect x="222.1" y="729.5" width="2.5" height="2.6" fill="#cb2535"/>
<rect x="222.9" y="728.2" width="0.9" height="1.5" fill="#cb2535"/>
<rect x="225.5" y="729.7" width="2.5" height="2.6" fill="#cb2535"/>
<rect x="228.9" y="729.9" width="2.5" height="2.6" fill="#0a8290"/>
<rect x="232.4" y="729.4" width="2.5" height="2.6" fill="#cb2535"/>
<rect x="233.2" y="728.1" width="0.9" height="1.5" fill="#cb2535"/>
<rect x="235.8" y="728.8" width="2.5" height="2.6" fill="#0a8290"/>
<rect x="236.6" y="727.5" width="0.9" height="1.5" fill="#0a8290"/>
<rect x="239.2" y="728.3" width="2.5" height="2.6" fill="#0a8290"/>
<rect x="240" y="727" width="0.9" height="1.5" fill="#0a8290"/>
<rect x="242.6" y="728.4" width="2.5" height="2.6" fill="#cb2535"/>
<rect x="246" y="728.6" width="2.5" height="2.6" fill="#0a8290"/>
<rect x="249.5" y="728.7" width="2.5" height="2.6" fill="#0a8290"/>
<rect x="252.9" y="729.2" width="2.5" height="2.6" fill="#cb2535"/>
<rect x="256.3" y="730.5" width="2.5" height="2.6" fill="#cb2535"/>
<rect x="257.1" y="729.2" width="0.9" height="1.5" fill="#cb2535"/>
<rect x="259.7" y="731" width="2.5" height="2.6" fill="#0a8290"/>
<rect x="260.5" y="729.7" width="0.9" height="1.5" fill="#0a8290"/>
<rect x="263.1" y="729.9" width="2.5" height="2.6" fill="#0a8290"/>
<rect x="266.6" y="728.8" width="2.5" height="2.6" fill="#0a8290"/>
<rect x="270" y="728.3" width="2.5" height="2.6" fill="#0a8290"/>
<rect x="273.4" y="728.5" width="2.5" height="2.6" fill="#cb2535"/>
<rect x="276.8" y="728.7" width="2.5" height="2.6" fill="#cb2535"/>
<rect x="280.2" y="729" width="2.5" height="2.6" fill="#cb2535"/>
<rect x="281" y="727.7" width="0.9" height="1.5" fill="#cb2535"/>
<rect x="283.7" y="729.6" width="2.5" height="2.6" fill="#cb2535"/>
<rect x="287.1" y="730.2" width="2.5" height="2.6" fill="#0a8290"/>
<rect x="287.9" y="728.9" width="0.9" height="1.5" fill="#0a8290"/>
<rect x="290.5" y="730.7" width="2.5" height="2.6" fill="#0a8290"/>
<rect x="293.9" y="730.7" width="2.5" height="2.6" fill="#cb2535"/>
<rect x="297.3" y="730.7" width="2.5" height="2.6" fill="#0a8290"/>
<rect x="300.8" y="730.1" width="2.5" height="2.6" fill="#0a8290"/>
<rect x="301.6" y="728.8" width="0.9" height="1.5" fill="#0a8290"/>
<rect x="304.2" y="729.5" width="2.5" height="2.6" fill="#cb2535"/>
<rect x="305" y="728.2" width="0.9" height="1.5" fill="#cb2535"/>
<rect x="307.6" y="729.3" width="2.5" height="2.6" fill="#0a8290"/>
<rect x="311" y="729.4" width="2.5" height="2.6" fill="#cb2535"/>
<rect x="314.4" y="729.6" width="2.5" height="2.6" fill="#cb2535"/>
<rect x="317.9" y="729.7" width="2.5" height="2.6" fill="#cb2535"/>
<rect x="318.7" y="728.4" width="0.9" height="1.5" fill="#cb2535"/>
<rect x="321.3" y="730.1" width="2.5" height="2.6" fill="#cb2535"/>
<rect x="324.7" y="730.4" width="2.5" height="2.6" fill="#cb2535"/>
<rect x="328.1" y="730.7" width="2.5" height="2.6" fill="#cb2535"/>
<rect x="331.5" y="730.8" width="2.5" height="2.6" fill="#0a8290"/>
<rect x="335" y="730.8" width="2.5" height="2.6" fill="#0a8290"/>
<rect x="338.4" y="730.9" width="2.5" height="2.6" fill="#0a8290"/>
<rect x="339.2" y="729.6" width="0.9" height="1.5" fill="#0a8290"/>
<rect x="341.8" y="730.7" width="2.5" height="2.6" fill="#cb2535"/>
<rect x="342.6" y="729.4" width="0.9" height="1.5" fill="#cb2535"/>
<rect x="345.2" y="730.3" width="2.5" height="2.6" fill="#0a8290"/>
<rect x="348.6" y="730" width="2.5" height="2.6" fill="#cb2535"/>
<rect x="352.1" y="729.7" width="2.5" height="2.6" fill="#0a8290"/>
<rect x="355.5" y="729.4" width="2.5" height="2.6" fill="#0a8290"/>
<rect x="358.9" y="729.2" width="2.5" height="2.6" fill="#cb2535"/>
<rect x="359.7" y="727.9" width="0.9" height="1.5" fill="#cb2535"/>
<rect x="362.3" y="729" width="2.5" height="2.6" fill="#0a8290"/>
<rect x="365.7" y="728.7" width="2.5" height="2.6" fill="#0a8290"/>
<rect x="369.2" y="728.4" width="2.5" height="2.6" fill="#0a8290"/>
<rect x="372.6" y="728.1" width="2.5" height="2.6" fill="#0a8290"/>
<rect x="373.4" y="726.8" width="0.9" height="1.5" fill="#0a8290"/>
<rect x="376" y="727.7" width="2.5" height="2.6" fill="#0a8290"/>
<rect x="376.8" y="726.4" width="0.9" height="1.5" fill="#0a8290"/>
<rect x="379.4" y="727.1" width="2.5" height="2.6" fill="#cb2535"/>
<rect x="382.8" y="726.4" width="2.5" height="2.6" fill="#0a8290"/>
<rect x="386.3" y="725.7" width="2.5" height="2.6" fill="#0a8290"/>
<rect x="389.7" y="726.5" width="2.5" height="2.6" fill="#cb2535"/>
<rect x="393.1" y="727.2" width="2.5" height="2.6" fill="#cb2535"/>
<rect x="396.5" y="727.2" width="2.5" height="2.6" fill="#cb2535"/>
<rect x="399.9" y="727.2" width="2.5" height="2.6" fill="#0a8290"/>
<rect x="403.4" y="727.2" width="2.5" height="2.6" fill="#cb2535"/>
<rect x="404.2" y="725.9" width="0.9" height="1.5" fill="#cb2535"/>
<rect x="406.8" y="726.6" width="2.5" height="2.6" fill="#0a8290"/>
<rect x="407.6" y="725.3" width="0.9" height="1.5" fill="#0a8290"/>
<rect x="410.2" y="725.9" width="2.5" height="2.6" fill="#0a8290"/>
<rect x="413.6" y="725.2" width="2.5" height="2.6" fill="#0a8290"/>
<rect x="417" y="724.7" width="2.5" height="2.6" fill="#0a8290"/>
<rect x="420.5" y="724.3" width="2.5" height="2.6" fill="#0a8290"/>
<rect x="421.3" y="723" width="0.9" height="1.5" fill="#0a8290"/>
<rect x="423.9" y="723.8" width="2.5" height="2.6" fill="#0a8290"/>
<rect x="424.7" y="722.5" width="0.9" height="1.5" fill="#0a8290"/>
<rect x="427.3" y="723.3" width="2.5" height="2.6" fill="#0a8290"/>
<rect x="430.7" y="723" width="2.5" height="2.6" fill="#0a8290"/>
<rect x="434.1" y="722.6" width="2.5" height="2.6" fill="#0a8290"/>
<rect x="437.6" y="722.3" width="2.5" height="2.6" fill="#0a8290"/>
<rect x="441" y="722.1" width="2.5" height="2.6" fill="#cb2535"/>
<rect x="444.4" y="722.1" width="2.5" height="2.6" fill="#0a8290"/>
<rect x="447.8" y="722.1" width="2.5" height="2.6" fill="#cb2535"/>
<rect x="451.2" y="722.1" width="2.5" height="2.6" fill="#cb2535"/>
<rect x="454.7" y="722" width="2.5" height="2.6" fill="#0a8290"/>
<rect x="458.1" y="721.8" width="2.5" height="2.6" fill="#cb2535"/>
<rect x="458.9" y="720.5" width="0.9" height="1.5" fill="#cb2535"/>
<rect x="461.5" y="721.6" width="2.5" height="2.6" fill="#0a8290"/>
<rect x="462.3" y="720.3" width="0.9" height="1.5" fill="#0a8290"/>
<rect x="464.9" y="721.5" width="2.5" height="2.6" fill="#cb2535"/>
<rect x="468.3" y="721.5" width="2.5" height="2.6" fill="#cb2535"/>
<rect x="471.8" y="721.9" width="2.5" height="2.6" fill="#0a8290"/>
<rect x="475.2" y="722.2" width="2.5" height="2.6" fill="#cb2535"/>
<rect x="476" y="720.9" width="0.9" height="1.5" fill="#cb2535"/>
<rect x="478.6" y="722.5" width="2.5" height="2.6" fill="#cb2535"/>
<rect x="482" y="722.9" width="2.5" height="2.6" fill="#0a8290"/>
<rect x="485.4" y="723.2" width="2.5" height="2.6" fill="#cb2535"/>
<rect x="488.9" y="723.6" width="2.5" height="2.6" fill="#cb2535"/>
<rect x="489.7" y="722.3" width="0.9" height="1.5" fill="#cb2535"/>
<rect x="492.3" y="723.6" width="2.5" height="2.6" fill="#0a8290"/>
<rect x="495.7" y="723.6" width="2.5" height="2.6" fill="#0a8290"/>
<rect x="499.1" y="723.6" width="2.5" height="2.6" fill="#0a8290"/>
<rect x="502.5" y="723.6" width="2.5" height="2.6" fill="#0a8290"/>
<rect x="506" y="723.5" width="2.5" height="2.6" fill="#0a8290"/>
<rect x="509.4" y="723.4" width="2.5" height="2.6" fill="#cb2535"/>
<rect x="510.2" y="722.1" width="0.9" height="1.5" fill="#cb2535"/>
<rect x="512.8" y="723.3" width="2.5" height="2.6" fill="#cb2535"/>
<rect x="516.2" y="723.2" width="2.5" height="2.6" fill="#cb2535"/>
<rect x="519.6" y="723.1" width="2.5" height="2.6" fill="#0a8290"/>
<rect x="523.1" y="722.5" width="2.5" height="2.6" fill="#0a8290"/>
<rect x="523.9" y="721.2" width="0.9" height="1.5" fill="#0a8290"/>
<rect x="526.5" y="721.9" width="2.5" height="2.6" fill="#0a8290"/>
<rect x="529.9" y="721.3" width="2.5" height="2.6" fill="#0a8290"/>
<rect x="530.7" y="720" width="0.9" height="1.5" fill="#0a8290"/>
<rect x="533.3" y="720.7" width="2.5" height="2.6" fill="#cb2535"/>
<rect x="536.7" y="720.1" width="2.5" height="2.6" fill="#0a8290"/>
<rect x="537.5" y="718.8" width="0.9" height="1.5" fill="#0a8290"/>
<rect x="540.2" y="719.6" width="2.5" height="2.6" fill="#0a8290"/>
<rect x="543.6" y="719" width="2.5" height="2.6" fill="#0a8290"/>
<rect x="547" y="718.9" width="2.5" height="2.6" fill="#0a8290"/>
<rect x="550.4" y="718.9" width="2.5" height="2.6" fill="#0a8290"/>
<rect x="553.8" y="718.9" width="2.5" height="2.6" fill="#cb2535"/>
<rect x="557.3" y="718.9" width="2.5" height="2.6" fill="#cb2535"/>
<rect x="558.1" y="717.6" width="0.9" height="1.5" fill="#cb2535"/>
<rect x="560.7" y="718.4" width="2.5" height="2.6" fill="#cb2535"/>
<rect x="561.5" y="717.1" width="0.9" height="1.5" fill="#cb2535"/>
<rect x="564.1" y="717.8" width="2.5" height="2.6" fill="#cb2535"/>
<rect x="567.5" y="717.3" width="2.5" height="2.6" fill="#0a8290"/>
<rect x="570.9" y="716.8" width="2.5" height="2.6" fill="#0a8290"/>
<rect x="571.7" y="715.5" width="0.9" height="1.5" fill="#0a8290"/>
<rect x="574.4" y="716.7" width="2.5" height="2.6" fill="#cb2535"/>
<rect x="575.2" y="715.4" width="0.9" height="1.5" fill="#cb2535"/>
<rect x="577.8" y="716.8" width="2.5" height="2.6" fill="#0a8290"/>
<rect x="581.2" y="716.9" width="2.5" height="2.6" fill="#0a8290"/>
<rect x="584.6" y="717" width="2.5" height="2.6" fill="#0a8290"/>
<rect x="588" y="717.1" width="2.5" height="2.6" fill="#cb2535"/>
<rect x="591.5" y="717.3" width="2.5" height="2.6" fill="#cb2535"/>
<rect x="594.9" y="717.5" width="2.5" height="2.6" fill="#cb2535"/>
<rect x="598.3" y="717.7" width="2.5" height="2.6" fill="#cb2535"/>
<rect x="601.7" y="717.9" width="2.5" height="2.6" fill="#0a8290"/>
<rect x="605.1" y="717.1" width="2.5" height="2.6" fill="#0a8290"/>
<rect x="608.6" y="716.2" width="2.5" height="2.6" fill="#cb2535"/>
<rect x="609.4" y="714.9" width="0.9" height="1.5" fill="#cb2535"/>
<rect x="612" y="716.3" width="2.5" height="2.6" fill="#cb2535"/>
<rect x="612.8" y="715" width="0.9" height="1.5" fill="#cb2535"/>
<rect x="615.4" y="716.9" width="2.5" height="2.6" fill="#0a8290"/>
<rect x="616.2" y="715.6" width="0.9" height="1.5" fill="#0a8290"/>
<rect x="618.8" y="717.4" width="2.5" height="2.6" fill="#cb2535"/>
<rect x="622.2" y="718.6" width="2.5" height="2.6" fill="#cb2535"/>
<rect x="623" y="717.3" width="0.9" height="1.5" fill="#cb2535"/>
<rect x="625.7" y="719.9" width="2.5" height="2.6" fill="#0a8290"/>
<rect x="626.5" y="718.6" width="0.9" height="1.5" fill="#0a8290"/>
<rect x="629.1" y="721.3" width="2.5" height="2.6" fill="#cb2535"/>
<rect x="629.9" y="720" width="0.9" height="1.5" fill="#cb2535"/>
<rect x="632.5" y="722.7" width="2.5" height="2.6" fill="#0a8290"/>
<rect x="635.9" y="722.7" width="2.5" height="2.6" fill="#0a8290"/>
<rect x="639.3" y="722" width="2.5" height="2.6" fill="#cb2535"/>
<rect x="642.8" y="721.4" width="2.5" height="2.6" fill="#0a8290"/>
<rect x="643.6" y="720.1" width="0.9" height="1.5" fill="#0a8290"/>
<rect x="646.2" y="721.5" width="2.5" height="2.6" fill="#0a8290"/>
<rect x="649.6" y="721.6" width="2.5" height="2.6" fill="#cb2535"/>
<rect x="653" y="721.2" width="2.5" height="2.6" fill="#cb2535"/>
<rect x="653.8" y="719.9" width="0.9" height="1.5" fill="#cb2535"/>
<rect x="656.4" y="720.4" width="2.5" height="2.6" fill="#cb2535"/>
<rect x="659.9" y="719.6" width="2.5" height="2.6" fill="#cb2535"/>
<rect x="660.7" y="718.3" width="0.9" height="1.5" fill="#cb2535"/>
<rect x="663.3" y="719.2" width="2.5" height="2.6" fill="#0a8290"/>
<rect x="664.1" y="717.9" width="0.9" height="1.5" fill="#0a8290"/>
<rect x="666.7" y="718.8" width="2.5" height="2.6" fill="#0a8290"/>
<rect x="670.1" y="718.4" width="2.5" height="2.6" fill="#0a8290"/>
<rect x="673.5" y="718.2" width="2.5" height="2.6" fill="#cb2535"/>
<rect x="677" y="718.7" width="2.5" height="2.6" fill="#cb2535"/>
<rect x="680.4" y="719.1" width="2.5" height="2.6" fill="#cb2535"/>
<rect x="681.2" y="717.8" width="0.9" height="1.5" fill="#cb2535"/>
<rect x="683.8" y="719.4" width="2.5" height="2.6" fill="#cb2535"/>
<rect x="687.2" y="719.7" width="2.5" height="2.6" fill="#0a8290"/>
<rect x="690.6" y="720" width="2.5" height="2.6" fill="#cb2535"/>
<rect x="694.1" y="720.2" width="2.5" height="2.6" fill="#cb2535"/>
<rect x="694.9" y="718.9" width="0.9" height="1.5" fill="#cb2535"/>
<rect x="697.5" y="720.3" width="2.5" height="2.6" fill="#cb2535"/>
<rect x="700.9" y="720.5" width="2.5" height="2.6" fill="#cb2535"/>
<rect x="704.3" y="720.7" width="2.5" height="2.6" fill="#cb2535"/>
<rect x="707.7" y="721" width="2.5" height="2.6" fill="#cb2535"/>
<rect x="711.2" y="721.4" width="2.5" height="2.6" fill="#0a8290"/>
<rect x="712" y="720.1" width="0.9" height="1.5" fill="#0a8290"/>
<rect x="714.6" y="721.7" width="2.5" height="2.6" fill="#0a8290"/>
<rect x="718" y="722.1" width="2.5" height="2.6" fill="#0a8290"/>
<rect x="721.4" y="722.6" width="2.5" height="2.6" fill="#cb2535"/>
<rect x="724.8" y="723.2" width="2.5" height="2.6" fill="#cb2535"/>
<rect x="728.3" y="724.4" width="2.5" height="2.6" fill="#cb2535"/>
<rect x="729.1" y="723.1" width="0.9" height="1.5" fill="#cb2535"/>
<rect x="731.7" y="726.3" width="2.5" height="2.6" fill="#cb2535"/>
<rect x="735.1" y="726.6" width="2.5" height="2.6" fill="#0a8290"/>
<rect x="738.5" y="726" width="2.5" height="2.6" fill="#0a8290"/>
<rect x="739.3" y="724.7" width="0.9" height="1.5" fill="#0a8290"/>
<rect x="741.9" y="725.5" width="2.5" height="2.6" fill="#0a8290"/>
<rect x="742.7" y="724.2" width="0.9" height="1.5" fill="#0a8290"/>
<rect x="745.4" y="725.3" width="2.5" height="2.6" fill="#0a8290"/>
<rect x="746.2" y="724" width="0.9" height="1.5" fill="#0a8290"/>
<rect x="748.8" y="725.5" width="2.5" height="2.6" fill="#cb2535"/>
<rect x="749.6" y="724.2" width="0.9" height="1.5" fill="#cb2535"/>
<rect x="752.2" y="725.8" width="2.5" height="2.6" fill="#cb2535"/>
<rect x="755.6" y="725.8" width="2.5" height="2.6" fill="#0a8290"/>
<rect x="759" y="725.6" width="2.5" height="2.6" fill="#0a8290"/>
<rect x="762.5" y="725.3" width="2.5" height="2.6" fill="#cb2535"/>
<rect x="763.3" y="724" width="0.9" height="1.5" fill="#cb2535"/>
<rect x="765.9" y="725.3" width="2.5" height="2.6" fill="#0a8290"/>
<rect x="769.3" y="725.4" width="2.5" height="2.6" fill="#0a8290"/>
<rect x="770.1" y="724.1" width="0.9" height="1.5" fill="#0a8290"/>
<rect x="772.7" y="725.5" width="2.5" height="2.6" fill="#0a8290"/>
<rect x="776.1" y="725.6" width="2.5" height="2.6" fill="#cb2535"/>
<rect x="776.9" y="724.3" width="0.9" height="1.5" fill="#cb2535"/>
<rect x="779.6" y="725.7" width="2.5" height="2.6" fill="#0a8290"/>
<rect x="783" y="725.3" width="2.5" height="2.6" fill="#0a8290"/>
<rect x="783.8" y="724" width="0.9" height="1.5" fill="#0a8290"/>
<rect x="786.4" y="724.9" width="2.5" height="2.6" fill="#0a8290"/>
<rect x="787.2" y="723.6" width="0.9" height="1.5" fill="#0a8290"/>
<rect x="789.8" y="724.7" width="2.5" height="2.6" fill="#cb2535"/>
<rect x="793.2" y="725.3" width="2.5" height="2.6" fill="#0a8290"/>
<rect x="796.7" y="725.9" width="2.5" height="2.6" fill="#cb2535"/>
<rect x="800.1" y="726.6" width="2.5" height="2.6" fill="#cb2535"/>
<rect x="800.9" y="725.3" width="0.9" height="1.5" fill="#cb2535"/>
<rect x="803.5" y="727.2" width="2.5" height="2.6" fill="#0a8290"/>
<rect x="806.9" y="727.8" width="2.5" height="2.6" fill="#0a8290"/>
<rect x="810.3" y="728.5" width="2.5" height="2.6" fill="#0a8290"/>
<rect x="813.8" y="729.6" width="2.5" height="2.6" fill="#cb2535"/>
<rect x="814.6" y="728.3" width="0.9" height="1.5" fill="#cb2535"/>
<rect x="817.2" y="730.1" width="2.5" height="2.6" fill="#cb2535"/>
<rect x="820.6" y="730" width="2.5" height="2.6" fill="#0a8290"/>
<rect x="824" y="729.9" width="2.5" height="2.6" fill="#cb2535"/>
<rect x="824.8" y="728.6" width="0.9" height="1.5" fill="#cb2535"/>
<rect x="827.4" y="729.8" width="2.5" height="2.6" fill="#0a8290"/>
<rect x="830.9" y="729.5" width="2.5" height="2.6" fill="#0a8290"/>
<rect x="831.7" y="728.2" width="0.9" height="1.5" fill="#0a8290"/>
<rect x="834.3" y="729.2" width="2.5" height="2.6" fill="#0a8290"/>
<rect x="837.7" y="728.8" width="2.5" height="2.6" fill="#0a8290"/>
<rect x="838.5" y="727.5" width="0.9" height="1.5" fill="#0a8290"/>
<rect x="841.1" y="728.3" width="2.5" height="2.6" fill="#0a8290"/>
<rect x="844.5" y="727.9" width="2.5" height="2.6" fill="#cb2535"/>
<rect x="848" y="727.4" width="2.5" height="2.6" fill="#0a8290"/>
<rect x="851.4" y="727.1" width="2.5" height="2.6" fill="#0a8290"/>
<rect x="854.8" y="726.9" width="2.5" height="2.6" fill="#0a8290"/>
<rect x="858.2" y="726.7" width="2.5" height="2.6" fill="#0a8290"/>
<rect x="861.6" y="726.6" width="2.5" height="2.6" fill="#0a8290"/>
<rect x="862.4" y="725.3" width="0.9" height="1.5" fill="#0a8290"/>
<rect x="865.1" y="726.5" width="2.5" height="2.6" fill="#0a8290"/>
<rect x="868.5" y="727.4" width="2.5" height="2.6" fill="#cb2535"/>
<rect x="871.9" y="728.2" width="2.5" height="2.6" fill="#0a8290"/>
<rect x="872.7" y="726.9" width="0.9" height="1.5" fill="#0a8290"/>
<rect x="875.3" y="728.8" width="2.5" height="2.6" fill="#0a8290"/>
<rect x="876.1" y="727.5" width="0.9" height="1.5" fill="#0a8290"/>
<rect x="878.7" y="728.6" width="2.5" height="2.6" fill="#0a8290"/>
<rect x="882.2" y="728.3" width="2.5" height="2.6" fill="#0a8290"/>
<rect x="885.6" y="728" width="2.5" height="2.6" fill="#cb2535"/>
<rect x="889" y="728" width="2.5" height="2.6" fill="#cb2535"/>
<rect x="892.4" y="728.2" width="2.5" height="2.6" fill="#0a8290"/>
<rect x="895.8" y="728.5" width="2.5" height="2.6" fill="#cb2535"/>
<rect x="899.3" y="728.7" width="2.5" height="2.6" fill="#cb2535"/>
<rect x="900.1" y="727.4" width="0.9" height="1.5" fill="#cb2535"/>
<rect x="902.7" y="728.6" width="2.5" height="2.6" fill="#0a8290"/>
<rect x="906.1" y="728.4" width="2.5" height="2.6" fill="#0a8290"/>
<rect x="909.5" y="728.3" width="2.5" height="2.6" fill="#cb2535"/>
<rect x="912.9" y="728.2" width="2.5" height="2.6" fill="#0a8290"/>
<rect x="916.4" y="728.1" width="2.5" height="2.6" fill="#cb2535"/>
<rect x="917.2" y="726.8" width="0.9" height="1.5" fill="#cb2535"/>
<rect x="919.8" y="728.1" width="2.5" height="2.6" fill="#cb2535"/>
<rect x="920.6" y="726.8" width="0.9" height="1.5" fill="#cb2535"/>
<rect x="923.2" y="728" width="2.5" height="2.6" fill="#cb2535"/>
<rect x="926.6" y="728" width="2.5" height="2.6" fill="#cb2535"/>
<rect x="927.4" y="726.7" width="0.9" height="1.5" fill="#cb2535"/>
<rect x="930" y="727.9" width="2.5" height="2.6" fill="#0a8290"/>
<rect x="930.8" y="726.6" width="0.9" height="1.5" fill="#0a8290"/>
<rect x="933.5" y="727.6" width="2.5" height="2.6" fill="#cb2535"/>
<rect x="934.3" y="726.3" width="0.9" height="1.5" fill="#cb2535"/>
<rect x="936.9" y="727.4" width="2.5" height="2.6" fill="#0a8290"/>
<rect x="940.3" y="727" width="2.5" height="2.6" fill="#0a8290"/>
<rect x="943.7" y="726" width="2.5" height="2.6" fill="#0a8290"/>
<rect x="947.1" y="725" width="2.5" height="2.6" fill="#0a8290"/>
<rect x="950.6" y="724" width="2.5" height="2.6" fill="#0a8290"/>
<rect x="951.4" y="722.7" width="0.9" height="1.5" fill="#0a8290"/>
<rect x="954" y="724.2" width="2.5" height="2.6" fill="#cb2535"/>
<rect x="954.8" y="722.9" width="0.9" height="1.5" fill="#cb2535"/>
<rect x="957.4" y="724.6" width="2.5" height="2.6" fill="#cb2535"/>
<rect x="960.8" y="725" width="2.5" height="2.6" fill="#cb2535"/>
<rect x="961.6" y="723.7" width="0.9" height="1.5" fill="#cb2535"/>
<rect x="964.2" y="725.8" width="2.5" height="2.6" fill="#cb2535"/>
<rect x="965" y="724.5" width="0.9" height="1.5" fill="#cb2535"/>
<rect x="967.7" y="726.8" width="2.5" height="2.6" fill="#cb2535"/>
<rect x="971.1" y="727.8" width="2.5" height="2.6" fill="#cb2535"/>
<rect x="974.5" y="728.1" width="2.5" height="2.6" fill="#0a8290"/>
<rect x="975.3" y="726.8" width="0.9" height="1.5" fill="#0a8290"/>
<rect x="977.9" y="727.8" width="2.5" height="2.6" fill="#cb2535"/>
<rect x="981.3" y="727.2" width="2.5" height="2.6" fill="#0a8290"/>
<rect x="984.8" y="726.1" width="2.5" height="2.6" fill="#0a8290"/>
<rect x="985.6" y="724.8" width="0.9" height="1.5" fill="#0a8290"/>
<rect x="988.2" y="725.2" width="2.5" height="2.6" fill="#0a8290"/>
<rect x="991.6" y="725.1" width="2.5" height="2.6" fill="#cb2535"/>
<rect x="992.4" y="723.8" width="0.9" height="1.5" fill="#cb2535"/>
<rect x="995" y="725" width="2.5" height="2.6" fill="#cb2535"/>
<rect x="998.4" y="725" width="2.5" height="2.6" fill="#cb2535"/>
<rect x="1001.9" y="724.9" width="2.5" height="2.6" fill="#0a8290"/>
<rect x="1005.3" y="724.7" width="2.5" height="2.6" fill="#0a8290"/>
<rect x="1008.7" y="724.5" width="2.5" height="2.6" fill="#cb2535"/>
<rect x="1012.1" y="724.3" width="2.5" height="2.6" fill="#0a8290"/>
<rect x="1015.5" y="724.1" width="2.5" height="2.6" fill="#cb2535"/>
<rect x="1016.3" y="722.8" width="0.9" height="1.5" fill="#cb2535"/>
<rect x="1019" y="724.4" width="2.5" height="2.6" fill="#cb2535"/>
<rect x="1022.4" y="724.7" width="2.5" height="2.6" fill="#cb2535"/>
<rect x="1023.2" y="723.4" width="0.9" height="1.5" fill="#cb2535"/>
<rect x="1025.8" y="725" width="2.5" height="2.6" fill="#0a8290"/>
<rect x="1029.2" y="725.2" width="2.5" height="2.6" fill="#cb2535"/>
<rect x="1030" y="723.9" width="0.9" height="1.5" fill="#cb2535"/>
<rect x="1032.6" y="725.2" width="2.5" height="2.6" fill="#0a8290"/>
<rect x="1036.1" y="725.2" width="2.5" height="2.6" fill="#0a8290"/>
<rect x="1039.5" y="725.1" width="2.5" height="2.6" fill="#cb2535"/>
<rect x="1040.3" y="723.8" width="0.9" height="1.5" fill="#cb2535"/>
<rect x="1042.9" y="725.1" width="2.5" height="2.6" fill="#0a8290"/>
<rect x="1046.3" y="725" width="2.5" height="2.6" fill="#cb2535"/>
<rect x="1049.7" y="724.9" width="2.5" height="2.6" fill="#cb2535"/>
<rect x="1050.5" y="723.6" width="0.9" height="1.5" fill="#cb2535"/>
<rect x="1053.2" y="724.7" width="2.5" height="2.6" fill="#cb2535"/>
<rect x="1054" y="723.4" width="0.9" height="1.5" fill="#cb2535"/>
<rect x="1056.6" y="724.6" width="2.5" height="2.6" fill="#0a8290"/>
<rect x="1060" y="724.5" width="2.5" height="2.6" fill="#0a8290"/>
<rect x="1063.4" y="724.5" width="2.5" height="2.6" fill="#cb2535"/>
<rect x="1064.2" y="723.2" width="0.9" height="1.5" fill="#cb2535"/>
<rect x="1066.8" y="724.6" width="2.5" height="2.6" fill="#cb2535"/>
<rect x="1070.3" y="724.8" width="2.5" height="2.6" fill="#cb2535"/>
<rect x="1073.7" y="724.9" width="2.5" height="2.6" fill="#0a8290"/>
<rect x="1077.1" y="725" width="2.5" height="2.6" fill="#cb2535"/>
<rect x="1077.9" y="723.7" width="0.9" height="1.5" fill="#cb2535"/>
<rect x="1080.5" y="724.8" width="2.5" height="2.6" fill="#0a8290"/>
<rect x="1083.9" y="724.1" width="2.5" height="2.6" fill="#0a8290"/>
<rect x="1084.7" y="722.8" width="0.9" height="1.5" fill="#0a8290"/>
<rect x="1087.4" y="723.5" width="2.5" height="2.6" fill="#0a8290"/>
<rect x="1088.2" y="722.2" width="0.9" height="1.5" fill="#0a8290"/>
<rect x="1090.8" y="722.9" width="2.5" height="2.6" fill="#0a8290"/>
<rect x="1091.6" y="721.6" width="0.9" height="1.5" fill="#0a8290"/>
<rect x="1094.2" y="722.2" width="2.5" height="2.6" fill="#cb2535"/>
<rect x="1095" y="720.9" width="0.9" height="1.5" fill="#cb2535"/>
<rect x="1097.6" y="721.6" width="2.5" height="2.6" fill="#0a8290"/>
<rect x="1101" y="721.3" width="2.5" height="2.6" fill="#cb2535"/>
<rect x="1104.5" y="721.7" width="2.5" height="2.6" fill="#cb2535"/>
<rect x="1107.9" y="722" width="2.5" height="2.6" fill="#cb2535"/>
<rect x="1108.7" y="720.7" width="0.9" height="1.5" fill="#cb2535"/>
<rect x="1111.3" y="722.3" width="2.5" height="2.6" fill="#cb2535"/>
<rect x="1114.7" y="722.5" width="2.5" height="2.6" fill="#cb2535"/>
<rect x="1118.1" y="722.2" width="2.5" height="2.6" fill="#0a8290"/>
<rect x="1121.6" y="722" width="2.5" height="2.6" fill="#0a8290"/>
<rect x="1122.4" y="720.7" width="0.9" height="1.5" fill="#0a8290"/>
<rect x="1125" y="721.7" width="2.5" height="2.6" fill="#cb2535"/>
<rect x="1125.8" y="720.4" width="0.9" height="1.5" fill="#cb2535"/>
<rect x="1128.4" y="721.4" width="2.5" height="2.6" fill="#0a8290"/>
<rect x="1131.8" y="721.1" width="2.5" height="2.6" fill="#cb2535"/>
<rect x="1135.2" y="720.8" width="2.5" height="2.6" fill="#cb2535"/>
<rect x="1138.7" y="720.2" width="2.5" height="2.6" fill="#0a8290"/>
<rect x="1142.1" y="719.6" width="2.5" height="2.6" fill="#0a8290"/>
<rect x="1142.9" y="718.3" width="0.9" height="1.5" fill="#0a8290"/>
<rect x="1145.5" y="719" width="2.5" height="2.6" fill="#0a8290"/>
<rect x="1148.9" y="718.4" width="2.5" height="2.6" fill="#cb2535"/>
<rect x="1149.7" y="717.1" width="0.9" height="1.5" fill="#cb2535"/>
<rect x="1152.3" y="718.6" width="2.5" height="2.6" fill="#cb2535"/>
<rect x="1155.8" y="718.8" width="2.5" height="2.6" fill="#0a8290"/>
<rect x="1159.2" y="719.1" width="2.5" height="2.6" fill="#cb2535"/>
<rect x="1162.6" y="719.3" width="2.5" height="2.6" fill="#0a8290"/>
<rect x="1163.4" y="718" width="0.9" height="1.5" fill="#0a8290"/>
<rect x="1166" y="719.5" width="2.5" height="2.6" fill="#0a8290"/>
<rect x="1166.8" y="718.2" width="0.9" height="1.5" fill="#0a8290"/>
<rect x="1169.4" y="719.6" width="2.5" height="2.6" fill="#cb2535"/>
<rect x="1172.9" y="719.6" width="2.5" height="2.6" fill="#0a8290"/>
<rect x="1176.3" y="719.7" width="2.5" height="2.6" fill="#0a8290"/>
<rect x="1179.7" y="719.7" width="2.5" height="2.6" fill="#cb2535"/>
<rect x="1183.1" y="719.8" width="2.5" height="2.6" fill="#cb2535"/>
<rect x="1186.5" y="720.3" width="2.5" height="2.6" fill="#cb2535"/>
<rect x="1187.3" y="719" width="0.9" height="1.5" fill="#cb2535"/>
<rect x="1190" y="721" width="2.5" height="2.6" fill="#0a8290"/>
<rect x="1193.4" y="721.7" width="2.5" height="2.6" fill="#cb2535"/>
<rect x="1196.8" y="721.7" width="2.5" height="2.6" fill="#0a8290"/>
<rect x="1200.2" y="721.4" width="2.5" height="2.6" fill="#0a8290"/>
<rect x="1203.6" y="721.2" width="2.5" height="2.6" fill="#cb2535"/>
<rect x="1207.1" y="720.9" width="2.5" height="2.6" fill="#0a8290"/>
<rect x="1210.5" y="720.6" width="2.5" height="2.6" fill="#cb2535"/>
<rect x="1213.9" y="720.9" width="2.5" height="2.6" fill="#cb2535"/>
<rect x="1217.3" y="721.6" width="2.5" height="2.6" fill="#cb2535"/>
<rect x="1220.7" y="722.3" width="2.5" height="2.6" fill="#0a8290"/>
<rect x="1221.5" y="721" width="0.9" height="1.5" fill="#0a8290"/>
<rect x="1224.2" y="723" width="2.5" height="2.6" fill="#cb2535"/>
<rect x="1225" y="721.7" width="0.9" height="1.5" fill="#cb2535"/>
<rect x="1227.6" y="723.7" width="2.5" height="2.6" fill="#0a8290"/>
<rect x="1228.4" y="722.4" width="0.9" height="1.5" fill="#0a8290"/>
<rect x="1231" y="724.1" width="2.5" height="2.6" fill="#cb2535"/>
<rect x="1234.4" y="724.1" width="2.5" height="2.6" fill="#cb2535"/>
<rect x="1235.2" y="722.8" width="0.9" height="1.5" fill="#cb2535"/>
<rect x="1237.8" y="724.2" width="2.5" height="2.6" fill="#cb2535"/>
<rect x="1241.3" y="724.3" width="2.5" height="2.6" fill="#cb2535"/>
<rect x="1242.1" y="723" width="0.9" height="1.5" fill="#cb2535"/>
<rect x="1244.7" y="724.4" width="2.5" height="2.6" fill="#0a8290"/>
<rect x="1248.1" y="724.5" width="2.5" height="2.6" fill="#cb2535"/>
<rect x="1251.5" y="724.6" width="2.5" height="2.6" fill="#0a8290"/>
<rect x="1252.3" y="723.3" width="0.9" height="1.5" fill="#0a8290"/>
<rect x="1254.9" y="724.7" width="2.5" height="2.6" fill="#cb2535"/>
<rect x="1258.4" y="724.7" width="2.5" height="2.6" fill="#cb2535"/>
<rect x="1259.2" y="723.4" width="0.9" height="1.5" fill="#cb2535"/>
<rect x="1261.8" y="724.7" width="2.5" height="2.6" fill="#0a8290"/>
<rect x="1265.2" y="724.7" width="2.5" height="2.6" fill="#0a8290"/>
<rect x="1268.6" y="724.7" width="2.5" height="2.6" fill="#0a8290"/>
<rect x="1272" y="724.7" width="2.5" height="2.6" fill="#cb2535"/>
<rect x="1272.8" y="723.4" width="0.9" height="1.5" fill="#cb2535"/>
<rect x="1275.5" y="724.9" width="2.5" height="2.6" fill="#0a8290"/>
<rect x="1278.9" y="725" width="2.5" height="2.6" fill="#0a8290"/>
<rect x="1279.7" y="723.7" width="0.9" height="1.5" fill="#0a8290"/>
<rect x="1282.3" y="725.1" width="2.5" height="2.6" fill="#cb2535"/>
<rect x="1285.7" y="725.3" width="2.5" height="2.6" fill="#cb2535"/>
<rect x="1289.1" y="725.4" width="2.5" height="2.6" fill="#0a8290"/>
<rect x="1292.6" y="724.9" width="2.5" height="2.6" fill="#0a8290"/>
<rect x="1296" y="724.5" width="2.5" height="2.6" fill="#0a8290"/>
<rect x="1296.8" y="723.2" width="0.9" height="1.5" fill="#0a8290"/>
<rect x="1299.4" y="724.1" width="2.5" height="2.6" fill="#0a8290"/>
<rect x="1302.8" y="723.7" width="2.5" height="2.6" fill="#cb2535"/>
<rect x="1306.2" y="723.3" width="2.5" height="2.6" fill="#0a8290"/>
<rect x="1307" y="722" width="0.9" height="1.5" fill="#0a8290"/>
<rect x="1309.7" y="724.2" width="2.5" height="2.6" fill="#cb2535"/>
<rect x="1313.1" y="725.1" width="2.5" height="2.6" fill="#cb2535"/>
<rect x="1313.9" y="723.8" width="0.9" height="1.5" fill="#cb2535"/>
<rect x="1316.5" y="726" width="2.5" height="2.6" fill="#0a8290"/>
<rect x="1319.9" y="726.9" width="2.5" height="2.6" fill="#cb2535"/>
<rect x="1320.7" y="725.6" width="0.9" height="1.5" fill="#cb2535"/>
<rect x="1323.3" y="727.8" width="2.5" height="2.6" fill="#0a8290"/>
<rect x="1324.1" y="726.5" width="0.9" height="1.5" fill="#0a8290"/>
<rect x="1326.8" y="727.5" width="2.5" height="2.6" fill="#0a8290"/>
<rect x="1330.2" y="727" width="2.5" height="2.6" fill="#cb2535"/>
<rect x="1331" y="725.7" width="0.9" height="1.5" fill="#cb2535"/>
<rect x="1333.6" y="726.5" width="2.5" height="2.6" fill="#0a8290"/>
<rect x="1337" y="726" width="2.5" height="2.6" fill="#0a8290"/>
<rect x="1337.8" y="724.7" width="0.9" height="1.5" fill="#0a8290"/>
<rect x="1340.4" y="725.5" width="2.5" height="2.6" fill="#cb2535"/>
<rect x="1343.9" y="725.1" width="2.5" height="2.6" fill="#0a8290"/>
<rect x="1344.7" y="723.8" width="0.9" height="1.5" fill="#0a8290"/>
<rect x="1347.3" y="724.8" width="2.5" height="2.6" fill="#0a8290"/>
<rect x="1350.7" y="724.5" width="2.5" height="2.6" fill="#0a8290"/>
<rect x="1354.1" y="724.2" width="2.5" height="2.6" fill="#0a8290"/>
<rect x="1357.5" y="723.8" width="2.5" height="2.6" fill="#0a8290"/>
<rect x="1361" y="723.6" width="2.5" height="2.6" fill="#0a8290"/>
<rect x="1361.8" y="722.3" width="0.9" height="1.5" fill="#0a8290"/>
<rect x="1364.4" y="723.4" width="2.5" height="2.6" fill="#0a8290"/>
<rect x="1365.2" y="722.1" width="0.9" height="1.5" fill="#0a8290"/>
<rect x="1367.8" y="723.2" width="2.5" height="2.6" fill="#cb2535"/>
<rect x="1371.2" y="723" width="2.5" height="2.6" fill="#0a8290"/>
<rect x="1374.6" y="722.9" width="2.5" height="2.6" fill="#0a8290"/>
<rect x="1378.1" y="722.7" width="2.5" height="2.6" fill="#cb2535"/>
<rect x="1378.9" y="721.4" width="0.9" height="1.5" fill="#cb2535"/>
</g>
<rect x="846.5" y="706" width="1.6" height="38" fill="#8f8f8f"/>
<rect x="845" y="714.5" width="4.6" height="21" rx="2.2" fill="#9a9a9a"/>
<rect x="1382.5" y="706" width="1.6" height="38" fill="#8f8f8f"/>
<rect x="1381" y="714.5" width="4.6" height="21" rx="2.2" fill="#9a9a9a"/>
<rect x="0.5" y="707.5" width="13.5" height="13.5" fill="#fff"/>
<path d="M3.6 711.2 L10.8 718.4 M10.8 711.2 L3.6 718.4" stroke="#8a8a8a" stroke-width="2" fill="none"/>
<path d="M1395 762 L1388 769 M1395 765.5 L1391.5 769" stroke="#888" stroke-width="1.1"/>
</svg>
<div id="hdr"></div>
<svg class="ic" style="left:6.7px;top:7.2px" width="20.2" height="20.6" viewBox="0 0 20.2 20.6"><rect width="20.2" height="20.6" fill="#fff"/><path d="M1.5 2.8H18.5M1.5 6.1H18.5M1.5 9.8H18.5M1.5 13.3H18.5M1.5 17.1H18.5" stroke="#ececec" stroke-width="0.9"/><path d="M2.1 16.6 L6.7 7.4 L11.3 12 L16.9 4.7" fill="none" stroke="#14899a" stroke-width="1.9"/></svg>
<div class="abs title">SPOT, BRENT CRUDE</div>
<svg class="ic" style="left:178px;top:10px" width="16" height="16" viewBox="0 0 16 16"><circle cx="6" cy="5.9" r="3.9" fill="none" stroke="#d6d6d6" stroke-width="1.3"/><path d="M8.9 8.8 L13.4 13.3" stroke="#d6d6d6" stroke-width="1.7" stroke-linecap="round"/></svg>
<svg class="ic" style="left:1325px;top:4px" width="66" height="26" viewBox="1325 4 66 26"><path d="M1329.3 23.2 H1341" stroke="#e4e4e4" stroke-width="1.8" fill="none"/><rect x="1349.8" y="15.6" width="8.4" height="7.8" fill="none" stroke="#e4e4e4" stroke-width="1.6"/><rect x="1357" y="18.2" width="2.4" height="2.8" fill="#000"/><path d="M1354 19.6 H1361" stroke="#e4e4e4" stroke-width="1.5" fill="none"/><path d="M1360.2 17 L1363.1 19.6 L1360.2 22.2 Z" fill="#e4e4e4"/><path d="M1357.9 13 H1363.3 M1360.6 10.2 V15.8" stroke="#e4e4e4" stroke-width="1.7" fill="none"/><path d="M1371.3 10.8 L1384.3 23.8 M1384.3 10.8 L1371.3 23.8" stroke="#dcdcdc" stroke-width="1.3" fill="none"/></svg>
<div id="tb"></div>
<div class="abs mi" style="left:10.5px">Daily</div><div class="tri" style="left:44.3px"></div>
<div class="abs mi" style="left:72.5px">Technical</div><div class="tri" style="left:132.5px"></div>
<div class="abs mi" style="left:160.5px">Display</div><div class="tri" style="left:207.5px"></div>
<div class="abs mi" style="left:236px">More</div><div class="tri" style="left:270.7px"></div>
<svg class="ic" style="left:299px;top:45px" width="16" height="15" viewBox="0 0 16 15"><path d="M1 12.3 V3 Q1 1.6 2.4 1.6 H4.6 Q5.4 1.6 5.9 2.3 L6.5 3.1 H10.6 Q11.8 3.1 11.8 4.3 V5.6" fill="none" stroke="#6a6a6a" stroke-width="0.95"/><path d="M1.6 13.2 Q0.9 13.2 1.3 12.4 L3.9 7 Q4.3 6.2 5.1 6.2 H14.4 Q15.3 6.2 14.9 7.1 L12.6 12.4 Q12.2 13.2 11.4 13.2 Z" fill="#333"/></svg>
<svg class="ic" style="left:331px;top:45px" width="15" height="15" viewBox="0 0 15 15"><path d="M2.6 0.6 H10.4 Q11.2 0.6 11.8 1.2 L13.5 2.9 Q14.1 3.5 14.1 4.3 V12.4 Q14.1 14.3 12.2 14.3 H2.6 Q0.7 14.3 0.7 12.4 V2.5 Q0.7 0.6 2.6 0.6 Z" fill="#3a3a3a"/><rect x="3.7" y="1.5" width="6.6" height="3.9" rx="0.4" fill="#fff"/><rect x="8" y="2.2" width="1.5" height="2.2" fill="#4a4a4a"/><rect x="2.3" y="7.6" width="10.2" height="5.2" rx="0.7" fill="#fff"/></svg>
<div class="ic" style="left:362.2px;top:51.2px;width:12.1px;height:3px;background:#111"></div>
<div class="ic" style="left:391.7px;top:51.3px;width:12.4px;height:3px;background:#111"></div>
<div class="ic" style="left:396.4px;top:46.6px;width:2.9px;height:12.4px;background:#111"></div>
<div class="abs cp">CURRENT PRICE:</div>
<div class="pb" style="left:1224px;background:#c6283a"><svg class="ic" style="left:5px;top:1px" width="8" height="9" viewBox="0 0 8 9"><path d="M2.3 0 H5.7 V4 H8 L4 8.8 L0 4 H2.3 Z" fill="#8c1020"/></svg><span style="left:14.5px;top:3.8px;font-size:13px;letter-spacing:0.75px">8460.<span style="position:static;font-size:10px;letter-spacing:0.6px">90</span></span></div>
<div class="pb" style="left:1312px;background:#1a8d9b"><svg class="ic" style="left:65px;top:1px" width="8" height="9" viewBox="0 0 8 9"><path d="M2.3 8.8 H5.7 V4.8 H8 L4 0 L0 4.8 H2.3 Z" fill="#0d6672"/></svg><span style="left:14.5px;top:3.8px;font-size:13px;letter-spacing:0.75px">8464.<span style="position:static;font-size:10px;letter-spacing:0.6px">70</span></span></div>

<div class="abs lg" style="left:8.5px;top:518.3px"><b>CANDLE PTNS</b> <span class="lgv">12</span></div>
<svg class="ic" style="left:92.5px;top:517.8px" width="11.4" height="11.4" viewBox="-6 -6 12 12"><g fill="#999"><rect x="-1.4" y="-5.6" width="2.8" height="11.2" rx="0.5" transform="rotate(0)"/><rect x="-1.4" y="-5.6" width="2.8" height="11.2" rx="0.5" transform="rotate(45)"/><rect x="-1.4" y="-5.6" width="2.8" height="11.2" rx="0.5" transform="rotate(90)"/><rect x="-1.4" y="-5.6" width="2.8" height="11.2" rx="0.5" transform="rotate(135)"/><circle r="4.1"/></g><circle r="1.9" fill="#fff"/></svg><svg class="ic" style="left:109.3px;top:518.7px" width="10" height="10" viewBox="0 0 10 10"><path d="M1.5 1.5 L8.5 8.5 M8.5 1.5 L1.5 8.5" stroke="#999" stroke-width="2.3" fill="none"/></svg>
<div class="abs lg" style="left:131.3px;top:518.3px"><b>PRO TRENDS</b> <span class="lgv">150 3 10 2 14 2 3 8</span></div>
<svg class="ic" style="left:283px;top:517.8px" width="11.4" height="11.4" viewBox="-6 -6 12 12"><g fill="#999"><rect x="-1.4" y="-5.6" width="2.8" height="11.2" rx="0.5" transform="rotate(0)"/><rect x="-1.4" y="-5.6" width="2.8" height="11.2" rx="0.5" transform="rotate(45)"/><rect x="-1.4" y="-5.6" width="2.8" height="11.2" rx="0.5" transform="rotate(90)"/><rect x="-1.4" y="-5.6" width="2.8" height="11.2" rx="0.5" transform="rotate(135)"/><circle r="4.1"/></g><circle r="1.9" fill="#fff"/></svg><svg class="ic" style="left:300.3px;top:518.7px" width="10" height="10" viewBox="0 0 10 10"><path d="M1.5 1.5 L8.5 8.5 M8.5 1.5 L1.5 8.5" stroke="#999" stroke-width="2.3" fill="none"/></svg>
<div class="abs lg" style="left:321.8px;top:518.3px"><b>VWAP</b> <span class="lgv">20 1 2 3</span></div>
<svg class="ic" style="left:392.3px;top:517.8px" width="11.4" height="11.4" viewBox="-6 -6 12 12"><g fill="#999"><rect x="-1.4" y="-5.6" width="2.8" height="11.2" rx="0.5" transform="rotate(0)"/><rect x="-1.4" y="-5.6" width="2.8" height="11.2" rx="0.5" transform="rotate(45)"/><rect x="-1.4" y="-5.6" width="2.8" height="11.2" rx="0.5" transform="rotate(90)"/><rect x="-1.4" y="-5.6" width="2.8" height="11.2" rx="0.5" transform="rotate(135)"/><circle r="4.1"/></g><circle r="1.9" fill="#fff"/></svg><svg class="ic" style="left:409px;top:518.7px" width="10" height="10" viewBox="0 0 10 10"><path d="M1.5 1.5 L8.5 8.5 M8.5 1.5 L1.5 8.5" stroke="#999" stroke-width="2.3" fill="none"/></svg>
<div class="abs st" style="left:8.5px;top:546.3px;color:#aaa">TODAY:</div>
<div class="abs st" style="left:57.7px;top:546.3px;color:#aaa">H:</div>
<div class="abs st" style="left:70.3px;top:546.3px;color:#222">8468.90</div>
<div class="abs st" style="left:113.8px;top:546.3px;color:#aaa">L:</div>
<div class="abs st" style="left:123.6px;top:546.3px;color:#222">8397.29</div>
<div class="abs st" style="left:171.7px;top:546.3px;color:#2a98a6">13.60</div>
<div class="abs st" style="left:216.8px;top:546.3px;color:#2a98a6">0.2%</div>
<div class="abs st" style="left:8.5px;top:559.3px;color:#aaa">CHART:</div>
<div class="abs st" style="left:57.7px;top:559.3px;color:#aaa">H:</div>
<div class="abs st" style="left:70.3px;top:559.3px;color:#222">9167.10</div>
<div class="abs st" style="left:113.8px;top:559.3px;color:#aaa">L:</div>
<div class="abs st" style="left:123.6px;top:559.3px;color:#222">7480.20</div>
<div class="abs st" style="left:171.7px;top:559.3px;color:#2a98a6">717.70</div>
<div class="abs st" style="left:216.8px;top:559.3px;color:#2a98a6">9.3%</div>
<div class="abs lg" style="left:8.5px;top:595.3px"><b>RSI</b> <span class="lgv">14</span></div>
<svg class="ic" style="left:41.5px;top:594.5999999999999px" width="11.4" height="11.4" viewBox="-6 -6 12 12"><g fill="#999"><rect x="-1.4" y="-5.6" width="2.8" height="11.2" rx="0.5" transform="rotate(0)"/><rect x="-1.4" y="-5.6" width="2.8" height="11.2" rx="0.5" transform="rotate(45)"/><rect x="-1.4" y="-5.6" width="2.8" height="11.2" rx="0.5" transform="rotate(90)"/><rect x="-1.4" y="-5.6" width="2.8" height="11.2" rx="0.5" transform="rotate(135)"/><circle r="4.1"/></g><circle r="1.9" fill="#fff"/></svg><svg class="ic" style="left:58.5px;top:595.5px" width="10" height="10" viewBox="0 0 10 10"><path d="M1.5 1.5 L8.5 8.5 M8.5 1.5 L1.5 8.5" stroke="#999" stroke-width="2.3" fill="none"/></svg>
</body></html>
